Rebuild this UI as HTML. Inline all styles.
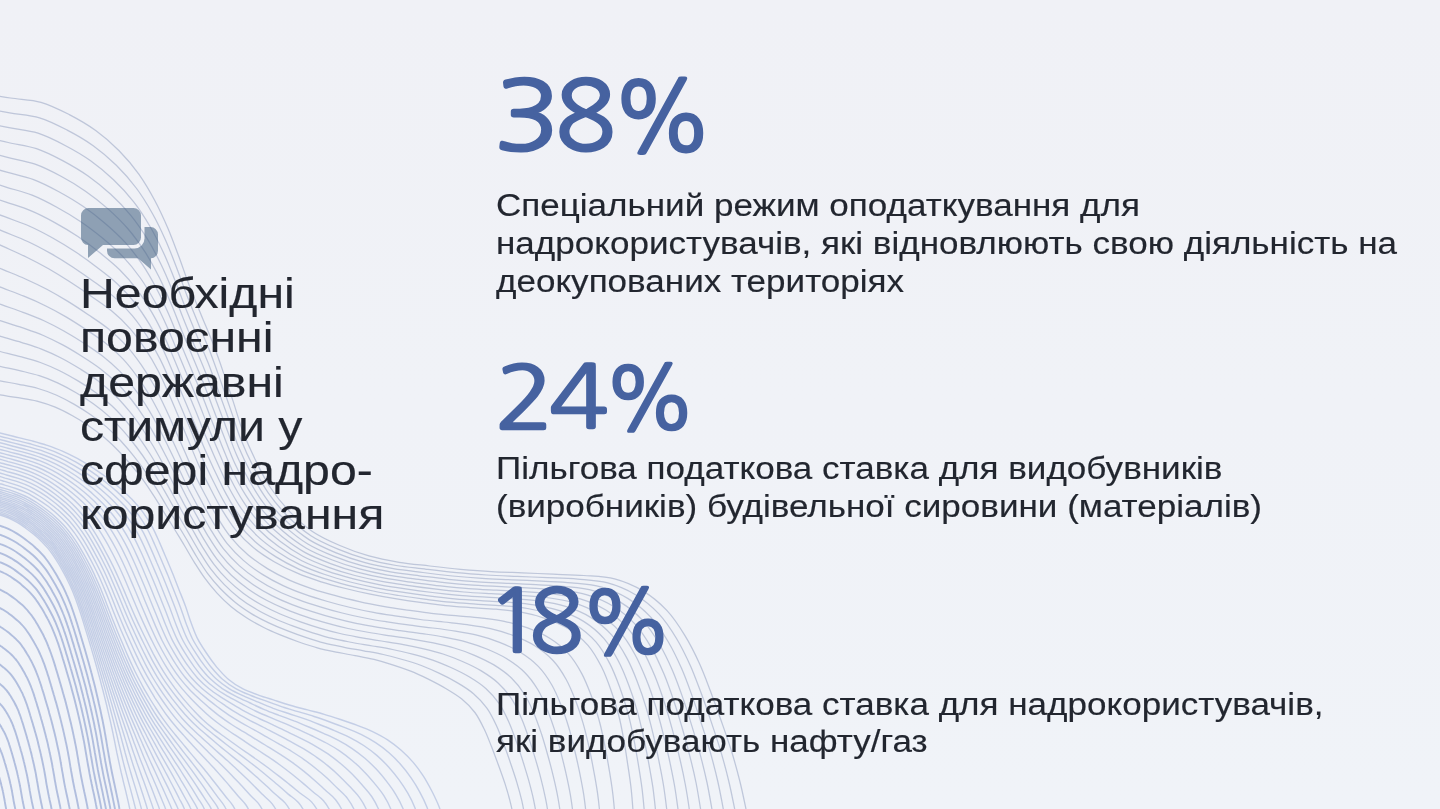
<!DOCTYPE html>
<html lang="uk">
<head>
<meta charset="utf-8">
<title>Повоєнні державні стимули у сфері надрокористування</title>
<style>
html,body{margin:0;padding:0;}
body{width:1440px;height:809px;overflow:hidden;position:relative;
  background:linear-gradient(180deg,#f0f1f6 0%,#f0f3f8 100%);
  font-family:"Liberation Sans","DejaVu Sans",sans-serif;}
#bg{position:absolute;left:0;top:0;width:1440px;height:809px;}
.ico{position:absolute;left:0;top:0;width:1440px;height:809px;}
.title{position:absolute;left:80.4px;top:0;margin:0;font-weight:400;color:#22262f;-webkit-text-stroke:0.15px #22262f;
  font-size:42px;line-height:42px;transform:scaleX(1.148);transform-origin:0 0;}
.title span,.txt span{position:absolute;left:0;white-space:nowrap;}
.num{position:absolute;left:0;top:0;margin:0;color:#4662a0;font-weight:400;}
.num span{position:absolute;line-height:1;transform-origin:0 0;white-space:nowrap;}
.num .ng{font-family:"NanumGothic","Liberation Sans",sans-serif;-webkit-text-stroke:0.03em #4662a0;}
.num .one{clip-path:polygon(0 0,100% 0,100% 72%,62% 72%,62% 100%,44.2% 100%,44.2% 72%,0 72%);}
.txt{position:absolute;left:495.5px;top:0;margin:0;color:#22262f;-webkit-text-stroke:0.15px #22262f;font-size:31px;line-height:31px;
  transform:scaleX(1.13);transform-origin:0 0;}
</style>
</head>
<body>
<svg id="bg" viewBox="0 0 1440 809"><g fill="none" stroke="#8d9bbd" stroke-width="1.25" stroke-opacity="0.5"><path d="M-20.0,93.0C-14.9,93.8 0.3,96.5 10.4,98.0C20.6,99.6 31.2,99.5 41.0,102.3C50.8,105.1 60.1,109.9 69.3,114.6C78.4,119.3 87.4,124.5 95.7,130.5C104.0,136.5 111.9,143.4 119.1,150.7C126.3,158.0 133.0,166.0 139.0,174.3C144.9,182.7 150.1,191.7 154.9,200.7C159.8,209.8 164.0,219.2 168.1,228.7C172.1,238.2 175.6,247.9 179.2,257.5C182.8,267.2 186.0,277.0 189.7,286.6C193.4,296.2 197.4,305.7 201.3,315.2C205.2,324.8 209.4,334.2 213.1,343.8C216.8,353.4 220.2,363.1 223.5,372.9C226.9,382.6 230.2,392.4 233.4,402.1C236.6,411.9 239.3,421.9 242.9,431.5C246.6,441.1 250.8,450.6 255.3,459.8C259.8,469.0 264.3,478.4 270.0,487.0C275.6,495.5 282.1,503.7 289.2,511.1C296.3,518.5 303.9,525.8 312.4,531.5C320.8,537.2 330.4,541.5 339.8,545.5C349.2,549.6 359.0,553.1 368.9,555.9C378.8,558.7 389.0,560.6 399.1,562.3C409.3,563.9 419.6,564.8 429.8,566.0C440.0,567.2 450.3,568.4 460.5,569.4C470.8,570.3 481.0,571.1 491.3,571.6C501.6,572.2 511.9,572.4 522.2,572.8C532.5,573.3 542.8,573.7 553.1,574.2C563.4,574.6 573.7,574.7 583.9,575.5C594.2,576.3 604.8,576.4 614.6,578.9C624.4,581.5 634.2,585.7 642.9,590.9C651.6,596.2 659.8,603.0 666.8,610.4C673.8,617.8 679.5,626.7 684.8,635.4C690.2,644.1 694.8,653.4 699.1,662.8C703.4,672.1 706.9,681.8 710.6,691.5C714.2,701.1 717.7,710.8 721.1,720.5C724.5,730.2 728.0,739.9 731.1,749.8C734.1,759.6 736.9,769.5 739.4,779.5C742.0,789.5 744.0,799.6 746.1,809.7C748.2,819.7 751.0,834.9 752.0,840.0"/><path d="M-20.0,107.3C-15.0,108.2 -0.2,111.1 9.7,112.9C19.6,114.6 29.9,114.9 39.5,117.8C49.1,120.6 58.2,125.4 67.2,130.1C76.1,134.7 85.0,139.8 93.2,145.7C101.4,151.6 109.1,158.2 116.3,165.2C123.5,172.3 130.2,179.9 136.2,188.0C142.3,196.0 147.5,204.7 152.4,213.5C157.4,222.3 161.7,231.5 165.8,240.7C169.9,249.9 173.4,259.4 177.1,268.9C180.7,278.3 184.0,287.9 187.6,297.3C191.3,306.7 195.2,316.1 199.0,325.4C202.9,334.8 207.0,344.0 210.7,353.4C214.3,362.9 217.6,372.4 221.0,382.0C224.4,391.5 227.7,401.0 231.0,410.6C234.3,420.1 237.0,429.9 240.8,439.3C244.5,448.6 248.7,457.9 253.3,466.8C257.9,475.8 262.6,484.8 268.4,493.1C274.1,501.3 280.7,509.1 287.7,516.2C294.8,523.3 302.5,530.2 310.9,535.7C319.2,541.2 328.7,545.2 338.0,549.1C347.2,553.0 356.9,556.4 366.6,559.1C376.3,561.9 386.3,563.8 396.2,565.5C406.2,567.1 416.3,568.0 426.3,569.3C436.4,570.5 446.4,571.7 456.5,572.7C466.6,573.7 476.6,574.4 486.7,575.0C496.8,575.6 506.9,575.9 517.1,576.3C527.2,576.8 537.3,577.2 547.4,577.7C557.5,578.1 567.6,578.3 577.7,579.1C587.7,580.0 598.1,580.3 607.7,582.9C617.4,585.5 627.0,589.6 635.5,594.7C644.0,599.9 652.1,606.6 658.9,613.9C665.7,621.2 671.3,629.9 676.5,638.5C681.7,647.1 686.1,656.3 690.3,665.5C694.4,674.7 697.8,684.3 701.4,693.8C704.9,703.2 708.2,712.8 711.4,722.4C714.6,732.0 717.9,741.5 720.7,751.2C723.6,760.9 726.3,770.7 728.6,780.5C731.0,790.3 732.9,800.2 734.9,810.2C736.8,820.1 739.4,835.0 740.3,840.0"/><path d="M-20.0,121.6C-15.2,122.6 -0.7,125.8 9.0,127.7C18.7,129.6 28.7,130.3 38.0,133.2C47.4,136.2 56.4,140.9 65.1,145.5C73.9,150.1 82.6,155.1 90.6,160.8C98.7,166.6 106.4,173.0 113.5,179.8C120.7,186.6 127.5,193.9 133.5,201.7C139.6,209.4 144.9,217.8 149.9,226.3C154.9,234.8 159.3,243.8 163.5,252.7C167.7,261.7 171.3,271.0 174.9,280.2C178.6,289.4 181.9,298.8 185.5,308.0C189.2,317.2 193.0,326.4 196.8,335.6C200.5,344.8 204.6,353.9 208.2,363.1C211.8,372.3 215.1,381.7 218.5,391.1C221.9,400.4 225.3,409.7 228.6,419.0C232.0,428.4 234.8,437.9 238.6,447.0C242.4,456.1 246.7,465.1 251.4,473.8C256.0,482.5 260.9,491.2 266.7,499.1C272.5,507.1 279.2,514.5 286.3,521.3C293.4,528.1 301.1,534.6 309.4,539.9C317.7,545.1 326.9,549.0 336.1,552.8C345.2,556.5 354.7,559.7 364.2,562.4C373.8,565.0 383.6,567.0 393.3,568.7C403.1,570.3 413.0,571.3 422.9,572.5C432.7,573.8 442.6,575.0 452.5,576.0C462.3,577.0 472.2,577.8 482.2,578.4C492.1,579.1 502.0,579.3 511.9,579.8C521.8,580.2 531.8,580.7 541.7,581.2C551.6,581.7 561.5,581.9 571.4,582.8C581.3,583.8 591.4,584.2 600.8,586.9C610.3,589.5 619.7,593.5 628.1,598.6C636.4,603.6 644.3,610.2 651.0,617.4C657.7,624.6 663.1,633.2 668.2,641.7C673.2,650.1 677.5,659.2 681.5,668.3C685.5,677.3 688.8,686.7 692.2,696.1C695.5,705.4 698.6,714.8 701.6,724.3C704.7,733.7 707.7,743.1 710.4,752.7C713.1,762.2 715.6,771.8 717.8,781.5C720.0,791.1 721.8,800.9 723.6,810.7C725.4,820.4 727.8,835.1 728.6,840.0"/><path d="M-20.0,135.9C-15.3,137.0 -1.2,140.4 8.2,142.5C17.7,144.7 27.4,145.6 36.5,148.7C45.7,151.8 54.5,156.4 63.1,160.9C71.6,165.5 80.1,170.4 88.1,176.0C96.0,181.6 103.6,187.8 110.7,194.3C117.9,200.9 124.7,207.9 130.8,215.3C136.9,222.8 142.4,230.9 147.5,239.1C152.5,247.3 157.0,256.0 161.2,264.8C165.5,273.5 169.1,282.5 172.8,291.5C176.5,300.5 179.8,309.7 183.4,318.7C187.0,327.8 190.8,336.8 194.5,345.8C198.2,354.8 202.2,363.7 205.7,372.8C209.3,381.8 212.5,391.0 216.0,400.2C219.4,409.3 222.8,418.4 226.2,427.5C229.6,436.6 232.6,445.9 236.5,454.7C240.4,463.6 244.6,472.4 249.4,480.8C254.2,489.3 259.2,497.6 265.1,505.2C271.0,512.8 277.7,519.9 284.8,526.4C291.9,532.9 299.6,539.0 307.8,544.0C316.1,549.0 325.2,552.8 334.2,556.4C343.2,560.0 352.5,563.1 361.9,565.7C371.3,568.2 380.9,570.2 390.5,571.9C400.1,573.5 409.8,574.6 419.4,575.8C429.1,577.0 438.8,578.3 448.4,579.3C458.1,580.3 467.8,581.2 477.6,581.8C487.3,582.5 497.0,582.8 506.8,583.3C516.5,583.7 526.2,584.1 536.0,584.7C545.7,585.2 555.5,585.4 565.1,586.5C574.8,587.5 584.7,588.2 593.9,590.8C603.2,593.5 612.5,597.4 620.7,602.4C628.9,607.4 636.6,613.8 643.1,620.9C649.7,628.0 654.9,636.4 659.8,644.8C664.7,653.2 668.8,662.1 672.7,671.0C676.5,680.0 679.8,689.2 683.0,698.4C686.2,707.6 689.1,716.8 691.9,726.1C694.8,735.4 697.6,744.7 700.1,754.1C702.6,763.5 704.9,773.0 707.0,782.5C709.0,792.0 710.6,801.6 712.3,811.2C714.0,820.8 716.1,835.2 716.9,840.0"/><path d="M-20.0,150.2C-15.4,151.4 -1.7,155.0 7.5,157.4C16.7,159.7 26.1,161.0 35.1,164.2C44.0,167.3 52.6,171.8 61.0,176.3C69.4,180.8 77.7,185.7 85.5,191.2C93.3,196.6 100.9,202.6 108.0,208.9C115.0,215.2 121.9,221.9 128.1,229.0C134.3,236.2 139.8,243.9 145.0,251.9C150.1,259.9 154.6,268.3 158.9,276.8C163.2,285.3 167.0,294.0 170.7,302.8C174.5,311.6 177.8,320.6 181.3,329.4C184.9,338.3 188.6,347.1 192.3,356.0C195.9,364.8 199.7,373.6 203.3,382.4C206.8,391.3 210.0,400.3 213.4,409.3C216.8,418.2 220.3,427.1 223.8,435.9C227.3,444.8 230.4,453.8 234.4,462.5C238.3,471.1 242.6,479.7 247.4,487.9C252.3,496.0 257.4,504.0 263.4,511.3C269.4,518.6 276.2,525.3 283.3,531.5C290.5,537.6 298.2,543.4 306.3,548.2C314.5,553.0 323.5,556.6 332.4,560.0C341.2,563.5 350.4,566.4 359.6,568.9C368.8,571.4 378.2,573.4 387.6,575.1C397.0,576.7 406.5,577.8 416.0,579.1C425.4,580.3 434.9,581.6 444.4,582.6C453.9,583.6 463.5,584.5 473.0,585.2C482.5,585.9 492.1,586.3 501.6,586.7C511.2,587.2 520.7,587.6 530.3,588.2C539.8,588.7 549.4,589.0 558.9,590.1C568.3,591.2 578.0,592.1 587.1,594.8C596.1,597.5 605.2,601.2 613.3,606.2C621.3,611.1 628.9,617.4 635.3,624.4C641.6,631.3 646.7,639.7 651.5,647.9C656.3,656.2 660.1,665.0 663.9,673.8C667.6,682.6 670.7,691.6 673.8,700.7C676.8,709.7 679.5,718.9 682.2,728.0C684.8,737.2 687.4,746.3 689.7,755.6C692.1,764.8 694.3,774.1 696.2,783.5C698.0,792.8 699.5,802.3 701.0,811.7C702.5,821.1 704.5,835.3 705.2,840.0"/><path d="M-20.0,164.5C-15.5,165.8 -2.1,169.7 6.8,172.2C15.7,174.7 24.9,176.4 33.6,179.6C42.3,182.9 50.7,187.3 58.9,191.7C67.1,196.2 75.3,201.0 83.0,206.3C90.7,211.6 98.1,217.4 105.2,223.5C112.2,229.5 119.2,235.8 125.4,242.7C131.6,249.6 137.3,257.0 142.5,264.7C147.7,272.4 152.3,280.6 156.6,288.8C161.0,297.0 164.9,305.6 168.6,314.1C172.4,322.7 175.7,331.5 179.3,340.1C182.8,348.8 186.4,357.5 190.0,366.1C193.6,374.8 197.3,383.4 200.8,392.1C204.3,400.8 207.5,409.6 210.9,418.4C214.3,427.1 217.9,435.7 221.4,444.4C225.0,453.0 228.2,461.8 232.2,470.2C236.2,478.6 240.5,487.0 245.5,494.9C250.4,502.7 255.7,510.4 261.8,517.4C267.9,524.3 274.7,530.7 281.9,536.6C289.1,542.4 296.7,547.9 304.8,552.4C312.9,556.9 321.7,560.3 330.5,563.6C339.2,566.9 348.2,569.8 357.2,572.2C366.3,574.6 375.5,576.6 384.7,578.2C393.9,579.9 403.2,581.1 412.5,582.4C421.8,583.6 431.1,584.9 440.4,585.9C449.7,586.9 459.1,587.9 468.4,588.6C477.7,589.3 487.1,589.7 496.5,590.2C505.8,590.7 515.2,591.1 524.6,591.7C533.9,592.3 543.3,592.6 552.6,593.8C561.9,595.0 571.3,596.1 580.2,598.8C589.1,601.5 598.0,605.1 605.8,610.0C613.7,614.8 621.2,621.0 627.4,627.9C633.6,634.7 638.5,643.0 643.2,651.1C647.8,659.2 651.5,667.9 655.1,676.5C658.6,685.2 661.7,694.1 664.6,703.0C667.4,711.9 670.0,720.9 672.4,729.9C674.9,738.9 677.3,747.9 679.4,757.0C681.6,766.1 683.6,775.3 685.3,784.5C687.1,793.7 688.4,802.9 689.7,812.2C691.1,821.4 692.9,835.4 693.5,840.0"/><path d="M-20.0,178.8C-15.7,180.2 -2.6,184.3 6.0,187.1C14.7,189.8 23.6,191.8 32.1,195.1C40.6,198.5 48.8,202.8 56.8,207.2C64.9,211.6 72.8,216.3 80.4,221.5C88.0,226.6 95.3,232.2 102.4,238.0C109.4,243.8 116.4,249.8 122.7,256.4C128.9,262.9 134.7,270.1 140.0,277.5C145.3,284.9 149.9,292.8 154.4,300.8C158.8,308.8 162.7,317.1 166.5,325.5C170.3,333.8 173.6,342.4 177.2,350.9C180.7,359.3 184.2,367.8 187.7,376.3C191.3,384.8 194.9,393.3 198.3,401.8C201.8,410.3 204.9,419.0 208.4,427.5C211.8,436.0 215.4,444.4 219.0,452.8C222.7,461.2 226.0,469.8 230.1,478.0C234.2,486.1 238.5,494.3 243.5,501.9C248.5,509.5 254.0,516.8 260.2,523.5C266.3,530.1 273.2,536.1 280.4,541.6C287.6,547.2 295.3,552.3 303.3,556.5C311.3,560.8 320.0,564.1 328.6,567.3C337.2,570.4 346.0,573.1 354.9,575.5C363.8,577.8 372.8,579.7 381.8,581.4C390.8,583.1 400.0,584.3 409.1,585.6C418.2,586.9 427.3,588.1 436.4,589.2C445.5,590.3 454.7,591.3 463.8,592.0C473.0,592.8 482.2,593.2 491.3,593.7C500.5,594.2 509.7,594.6 518.9,595.2C528.0,595.8 537.2,596.2 546.3,597.5C555.4,598.7 564.6,600.0 573.3,602.7C582.0,605.4 590.7,609.0 598.4,613.8C606.1,618.6 613.4,624.6 619.5,631.4C625.6,638.1 630.4,646.2 634.8,654.2C639.3,662.2 642.8,670.8 646.2,679.3C649.7,687.8 652.6,696.5 655.3,705.3C658.1,714.0 660.4,722.9 662.7,731.8C665.0,740.6 667.1,749.5 669.1,758.5C671.0,767.4 672.9,776.4 674.5,785.5C676.1,794.5 677.2,803.6 678.5,812.7C679.7,821.8 681.2,835.4 681.8,840.0"/><path d="M-20.0,193.1C-15.8,194.6 -3.1,199.0 5.3,201.9C13.7,204.8 22.4,207.1 30.6,210.6C38.9,214.0 46.9,218.2 54.8,222.6C62.7,226.9 70.4,231.6 77.9,236.6C85.3,241.6 92.6,247.0 99.6,252.6C106.6,258.2 113.6,263.8 119.9,270.0C126.3,276.3 132.2,283.1 137.5,290.3C142.9,297.4 147.6,305.1 152.1,312.9C156.6,320.6 160.6,328.7 164.4,336.8C168.3,344.9 171.6,353.3 175.1,361.6C178.6,369.9 182.0,378.2 185.5,386.5C189.0,394.8 192.5,403.1 195.9,411.4C199.3,419.8 202.4,428.3 205.8,436.6C209.3,444.9 213.0,453.1 216.6,461.3C220.3,469.4 223.8,477.8 227.9,485.7C232.1,493.6 236.4,501.6 241.5,508.9C246.6,516.2 252.3,523.2 258.5,529.5C264.7,535.8 271.7,541.5 279.0,546.7C286.2,551.9 293.8,556.7 301.8,560.7C309.8,564.7 318.3,567.9 326.7,570.9C335.2,573.9 343.9,576.4 352.6,578.7C361.3,581.0 370.1,582.9 378.9,584.6C387.8,586.3 396.7,587.6 405.6,588.9C414.5,590.2 423.4,591.4 432.4,592.5C441.3,593.6 450.3,594.6 459.2,595.4C468.2,596.2 477.2,596.6 486.2,597.2C495.2,597.7 504.2,598.0 513.2,598.7C522.1,599.4 531.2,599.8 540.0,601.2C548.9,602.5 557.9,604.0 566.4,606.7C574.9,609.4 583.5,612.9 591.0,617.6C598.6,622.3 605.7,628.3 611.6,634.9C617.5,641.5 622.2,649.5 626.5,657.4C630.8,665.2 634.2,673.6 637.4,682.0C640.7,690.4 643.6,699.0 646.1,707.6C648.7,716.2 650.9,724.9 653.0,733.6C655.1,742.4 657.0,751.1 658.7,759.9C660.5,768.8 662.3,777.6 663.7,786.5C665.1,795.3 666.1,804.3 667.2,813.2C668.3,822.1 669.6,835.5 670.1,840.0"/><path d="M-20.0,207.4C-15.9,209.0 -3.6,213.6 4.6,216.7C12.8,219.9 21.1,222.5 29.1,226.0C37.2,229.6 45.0,233.7 52.7,238.0C60.4,242.3 68.0,246.9 75.3,251.8C82.6,256.6 89.8,261.8 96.8,267.2C103.8,272.5 110.9,277.7 117.2,283.7C123.6,289.7 129.6,296.2 135.0,303.0C140.4,309.9 145.2,317.4 149.8,324.9C154.3,332.4 158.5,340.2 162.3,348.1C166.2,356.0 169.5,364.2 173.0,372.3C176.5,380.4 179.8,388.6 183.2,396.7C186.6,404.8 190.1,413.0 193.4,421.1C196.8,429.3 199.8,437.6 203.3,445.7C206.8,453.8 210.5,461.7 214.2,469.7C218.0,477.7 221.6,485.7 225.8,493.4C230.0,501.1 234.4,508.9 239.6,515.9C244.8,522.9 250.6,529.6 256.9,535.6C263.2,541.6 270.3,546.9 277.5,551.8C284.7,556.7 292.4,561.1 300.3,564.9C308.2,568.7 316.6,571.7 324.9,574.5C333.2,577.4 341.7,579.8 350.2,582.0C358.8,584.2 367.4,586.1 376.0,587.8C384.7,589.5 393.4,590.9 402.1,592.2C410.9,593.5 419.6,594.7 428.4,595.8C437.1,596.9 445.9,598.0 454.6,598.8C463.4,599.6 472.2,600.1 481.0,600.6C489.8,601.2 498.7,601.5 507.5,602.2C516.2,602.9 525.1,603.4 533.8,604.8C542.4,606.2 551.2,607.9 559.5,610.7C567.8,613.4 576.2,616.8 583.6,621.4C591.0,626.0 598.0,631.9 603.8,638.4C609.5,644.9 614.0,652.8 618.1,660.5C622.3,668.2 625.5,676.5 628.6,684.8C631.8,693.0 634.5,701.4 636.9,709.9C639.4,718.3 641.3,726.9 643.2,735.5C645.1,744.1 646.8,752.8 648.4,761.4C650.0,770.1 651.6,778.7 652.9,787.4C654.1,796.2 655.0,804.9 655.9,813.7C656.8,822.4 658.0,835.6 658.4,840.0"/><path d="M-20.0,221.7C-16.0,223.3 -4.1,228.3 3.8,231.6C11.8,234.9 19.9,237.9 27.7,241.5C35.5,245.1 43.1,249.2 50.6,253.4C58.2,257.7 65.5,262.2 72.7,266.9C80.0,271.7 87.0,276.6 94.0,281.7C101.0,286.8 108.1,291.7 114.5,297.4C120.9,303.1 127.0,309.2 132.5,315.8C138.0,322.4 142.9,329.6 147.5,336.9C152.1,344.2 156.3,351.7 160.2,359.4C164.1,367.1 167.4,375.1 170.9,383.0C174.3,390.9 177.6,398.9 181.0,406.9C184.3,414.8 187.7,422.8 191.0,430.8C194.2,438.8 197.3,446.9 200.8,454.8C204.2,462.7 208.0,470.4 211.8,478.2C215.7,485.9 219.4,493.7 223.7,501.2C227.9,508.6 232.3,516.2 237.6,522.9C242.9,529.7 248.8,536.0 255.2,541.7C261.6,547.4 268.8,552.3 276.0,556.9C283.3,561.5 291.0,565.5 298.8,569.1C306.6,572.6 314.8,575.4 323.0,578.1C331.2,580.8 339.6,583.1 347.9,585.3C356.3,587.4 364.7,589.3 373.2,591.0C381.6,592.7 390.2,594.1 398.7,595.5C407.2,596.8 415.8,598.0 424.3,599.1C432.9,600.2 441.5,601.4 450.1,602.2C458.7,603.0 467.3,603.5 475.9,604.1C484.5,604.7 493.2,605.0 501.8,605.7C510.4,606.4 519.0,607.0 527.5,608.5C536.0,610.0 544.5,611.8 552.6,614.6C560.7,617.4 569.0,620.7 576.2,625.2C583.4,629.7 590.3,635.5 595.9,641.9C601.5,648.3 605.8,656.0 609.8,663.6C613.8,671.2 616.8,679.4 619.8,687.5C622.8,695.6 625.5,703.9 627.7,712.2C630.0,720.5 631.8,729.0 633.5,737.4C635.2,745.8 636.6,754.4 638.1,762.9C639.5,771.4 640.9,779.9 642.0,788.4C643.1,797.0 643.8,805.6 644.6,814.2C645.4,822.8 646.4,835.7 646.7,840.0"/><path d="M-20.0,236.0C-16.1,237.7 -4.6,242.9 3.1,246.4C10.8,249.9 18.6,253.2 26.2,257.0C33.8,260.7 41.2,264.6 48.6,268.8C55.9,273.0 63.1,277.5 70.2,282.1C77.3,286.7 84.3,291.4 91.2,296.3C98.1,301.1 105.3,305.7 111.8,311.1C118.3,316.5 124.5,322.3 130.0,328.6C135.6,334.9 140.5,341.9 145.2,348.9C149.9,355.9 154.2,363.3 158.1,370.7C162.0,378.2 165.4,386.0 168.8,393.7C172.2,401.4 175.4,409.3 178.7,417.1C182.0,424.8 185.2,432.7 188.5,440.5C191.7,448.3 194.7,456.2 198.2,463.9C201.7,471.6 205.6,479.1 209.5,486.6C213.3,494.1 217.1,501.7 221.5,508.9C225.9,516.1 230.3,523.4 235.6,529.9C241.0,536.4 247.1,542.4 253.6,547.8C260.1,553.1 267.3,557.7 274.6,562.0C281.8,566.2 289.5,569.9 297.3,573.2C305.0,576.5 313.1,579.2 321.1,581.8C329.2,584.3 337.4,586.4 345.6,588.5C353.8,590.6 362.0,592.5 370.3,594.2C378.6,595.9 386.9,597.4 395.2,598.7C403.6,600.1 411.9,601.3 420.3,602.4C428.7,603.6 437.1,604.7 445.5,605.6C453.9,606.5 462.3,607.0 470.7,607.6C479.2,608.2 487.6,608.5 496.1,609.2C504.5,610.0 513.0,610.6 521.2,612.2C529.5,613.7 537.8,615.8 545.7,618.6C553.7,621.4 561.7,624.5 568.8,629.0C575.8,633.5 582.5,639.1 588.0,645.4C593.4,651.7 597.6,659.3 601.5,666.8C605.3,674.3 608.2,682.3 611.0,690.3C613.9,698.2 616.4,706.3 618.5,714.5C620.7,722.6 622.2,731.0 623.7,739.3C625.3,747.6 626.5,756.0 627.7,764.3C629.0,772.7 630.3,781.0 631.2,789.4C632.1,797.8 632.7,806.3 633.3,814.7C634.0,823.1 634.7,835.8 635.0,840.0"/><path d="M-20.0,259.9C-16.3,261.5 -5.0,266.2 2.5,269.4C9.9,272.5 17.5,275.4 24.9,278.7C32.3,282.0 39.6,285.5 46.8,289.3C53.9,293.1 61.0,297.2 67.9,301.4C74.8,305.7 81.6,310.2 88.3,314.7C95.1,319.3 102.0,323.7 108.3,328.8C114.5,333.9 120.6,339.5 126.1,345.4C131.5,351.4 136.4,358.0 141.1,364.6C145.7,371.3 150.0,378.2 154.0,385.3C157.9,392.4 161.4,399.8 164.8,407.1C168.3,414.4 171.6,421.9 174.9,429.3C178.2,436.7 181.5,444.2 184.7,451.6C188.0,459.0 191.1,466.6 194.5,473.9C198.0,481.3 201.8,488.5 205.6,495.7C209.4,502.9 213.1,510.2 217.3,517.1C221.5,524.1 225.8,531.1 230.9,537.4C236.0,543.7 241.8,549.5 247.9,554.8C254.1,560.0 260.9,564.6 267.8,568.9C274.7,573.1 282.0,576.8 289.4,580.1C296.8,583.4 304.5,586.2 312.2,588.8C319.9,591.4 327.7,593.6 335.6,595.7C343.4,597.9 351.3,599.8 359.3,601.6C367.2,603.4 375.2,604.9 383.2,606.3C391.2,607.7 399.3,608.9 407.3,610.1C415.4,611.2 423.4,612.4 431.5,613.3C439.6,614.2 447.7,614.9 455.8,615.6C463.9,616.4 472.0,616.9 480.1,617.8C488.1,618.8 496.2,619.6 504.2,621.3C512.1,623.0 520.0,625.1 527.6,627.9C535.2,630.8 542.9,633.9 549.7,638.2C556.5,642.4 563.1,647.7 568.4,653.6C573.8,659.6 578.1,666.7 581.9,673.9C585.7,681.0 588.6,688.7 591.5,696.3C594.3,703.9 596.8,711.7 598.9,719.5C601.1,727.3 602.8,735.3 604.4,743.3C606.0,751.2 607.4,759.2 608.8,767.3C610.1,775.3 611.5,783.3 612.5,791.4C613.6,799.4 614.2,807.5 614.9,815.6C615.6,823.7 616.3,835.9 616.6,840.0"/><path d="M-20.0,279.2C-16.3,280.6 -5.4,284.9 1.9,287.7C9.3,290.6 16.7,293.2 23.9,296.2C31.1,299.1 38.3,302.2 45.3,305.7C52.4,309.1 59.3,312.9 66.0,316.9C72.8,320.9 79.4,325.2 86.0,329.5C92.6,333.9 99.3,338.2 105.4,343.1C111.6,347.9 117.5,353.2 122.9,358.9C128.3,364.6 133.1,370.9 137.7,377.3C142.4,383.6 146.6,390.3 150.6,397.0C154.6,403.8 158.1,410.8 161.7,417.8C165.2,424.8 168.5,432.0 171.8,439.1C175.2,446.2 178.4,453.4 181.7,460.5C185.0,467.7 188.1,474.9 191.6,482.0C195.0,489.1 198.8,496.0 202.5,503.0C206.2,509.9 209.8,517.0 213.9,523.7C218.0,530.4 222.1,537.3 227.0,543.4C232.0,549.5 237.5,555.2 243.4,560.4C249.3,565.6 255.8,570.2 262.4,574.4C269.0,578.6 276.0,582.3 283.1,585.6C290.2,589.0 297.6,591.8 305.0,594.4C312.4,597.1 320.0,599.3 327.6,601.5C335.1,603.7 342.8,605.7 350.4,607.5C358.1,609.4 365.8,611.0 373.5,612.4C381.3,613.9 389.1,615.0 396.9,616.2C404.7,617.4 412.5,618.6 420.3,619.5C428.1,620.5 436.0,621.2 443.8,622.0C451.6,622.9 459.5,623.6 467.2,624.7C475.0,625.8 482.8,626.8 490.5,628.6C498.1,630.4 505.7,632.6 513.0,635.4C520.4,638.3 527.8,641.4 534.4,645.5C541.0,649.6 547.5,654.6 552.8,660.3C558.1,665.9 562.4,672.7 566.2,679.5C570.0,686.3 572.9,693.8 575.8,701.1C578.6,708.5 581.0,716.0 583.2,723.6C585.4,731.1 587.1,738.8 588.9,746.5C590.6,754.2 592.1,761.9 593.5,769.6C595.0,777.4 596.4,785.1 597.5,792.9C598.6,800.7 599.4,808.5 600.1,816.4C600.9,824.2 601.6,836.1 601.9,840.0"/><path d="M-20.0,296.9C-16.4,298.2 -5.7,302.2 1.5,304.7C8.6,307.3 15.9,309.6 23.0,312.3C30.0,315.0 37.1,317.7 44.0,320.8C50.9,324.0 57.7,327.5 64.3,331.3C71.0,335.0 77.4,339.1 83.9,343.2C90.3,347.4 96.8,351.5 102.8,356.2C108.8,360.9 114.6,366.0 119.9,371.4C125.2,376.9 130.0,382.9 134.6,388.9C139.3,395.0 143.5,401.4 147.5,407.8C151.6,414.3 155.2,421.0 158.7,427.7C162.3,434.4 165.6,441.3 169.0,448.2C172.4,455.0 175.6,461.9 178.9,468.8C182.2,475.7 185.4,482.6 188.8,489.5C192.3,496.3 195.9,503.0 199.6,509.7C203.3,516.5 206.8,523.3 210.8,529.8C214.8,536.3 218.8,542.9 223.5,548.9C228.3,554.9 233.6,560.5 239.2,565.6C244.9,570.7 251.1,575.3 257.4,579.5C263.7,583.7 270.5,587.4 277.3,590.7C284.1,594.1 291.3,596.9 298.4,599.6C305.6,602.3 312.9,604.6 320.2,606.8C327.5,609.1 334.8,611.1 342.2,613.0C349.6,614.9 357.1,616.6 364.6,618.0C372.1,619.5 379.7,620.7 387.2,621.9C394.8,623.1 402.4,624.2 410.0,625.2C417.5,626.3 425.2,627.0 432.7,628.0C440.3,628.9 447.9,629.8 455.4,631.1C462.9,632.3 470.4,633.5 477.8,635.4C485.2,637.2 492.5,639.6 499.6,642.4C506.7,645.2 513.8,648.3 520.3,652.3C526.7,656.3 533.0,661.0 538.3,666.4C543.5,671.8 547.9,678.2 551.7,684.8C555.5,691.3 558.4,698.5 561.2,705.6C564.1,712.7 566.5,720.0 568.7,727.3C570.9,734.6 572.7,742.0 574.5,749.5C576.3,756.9 577.9,764.3 579.5,771.8C581.0,779.3 582.5,786.8 583.7,794.3C584.8,801.9 585.7,809.5 586.5,817.1C587.2,824.7 587.9,836.2 588.2,840.0"/><path d="M-20.0,313.8C-16.5,315.0 -6.0,318.6 1.0,320.9C8.0,323.2 15.1,325.2 22.1,327.6C29.0,330.0 36.0,332.3 42.8,335.2C49.5,338.1 56.2,341.4 62.7,344.9C69.2,348.4 75.6,352.3 81.8,356.2C88.1,360.2 94.4,364.2 100.3,368.7C106.2,373.2 111.9,378.1 117.1,383.3C122.4,388.5 127.1,394.2 131.7,400.0C136.3,405.8 140.6,411.9 144.6,418.1C148.6,424.3 152.3,430.7 155.9,437.1C159.6,443.6 162.9,450.2 166.3,456.8C169.7,463.4 173.0,470.0 176.3,476.7C179.6,483.3 182.8,490.0 186.2,496.5C189.7,503.1 193.3,509.6 196.9,516.1C200.5,522.6 203.9,529.2 207.8,535.6C211.7,541.9 215.6,548.3 220.2,554.2C224.7,560.0 229.8,565.5 235.2,570.5C240.7,575.5 246.6,580.1 252.6,584.3C258.7,588.5 265.2,592.2 271.8,595.6C278.4,599.0 285.2,601.9 292.1,604.6C299.0,607.3 306.1,609.7 313.1,611.9C320.2,614.2 327.3,616.3 334.5,618.2C341.6,620.1 348.9,621.9 356.1,623.4C363.4,624.9 370.7,626.1 378.1,627.3C385.4,628.5 392.8,629.6 400.1,630.7C407.5,631.7 414.9,632.5 422.2,633.6C429.5,634.7 436.8,635.7 444.1,637.1C451.4,638.5 458.7,639.8 465.8,641.8C472.9,643.8 480.0,646.2 486.8,649.0C493.6,651.8 500.5,654.9 506.8,658.7C513.1,662.6 519.3,667.0 524.5,672.2C529.7,677.3 534.1,683.5 537.9,689.8C541.7,696.0 544.6,703.0 547.4,709.9C550.3,716.7 552.6,723.8 554.9,730.9C557.1,737.9 559.0,745.1 560.9,752.3C562.7,759.5 564.5,766.7 566.1,773.9C567.7,781.1 569.3,788.4 570.5,795.7C571.7,803.0 572.7,810.4 573.5,817.8C574.3,825.1 575.0,836.3 575.3,840.0"/><path d="M-20.0,330.0C-16.6,331.1 -6.3,334.4 0.6,336.4C7.4,338.5 14.4,340.2 21.2,342.3C28.0,344.5 34.9,346.5 41.5,349.1C48.2,351.7 54.7,354.7 61.1,358.0C67.5,361.3 73.7,365.0 79.9,368.8C86.0,372.6 92.2,376.4 97.9,380.7C103.7,385.1 109.3,389.7 114.4,394.7C119.6,399.7 124.3,405.1 128.9,410.7C133.5,416.2 137.7,422.1 141.8,428.0C145.8,433.9 149.6,440.0 153.3,446.2C156.9,452.4 160.3,458.7 163.7,465.1C167.2,471.4 170.4,477.8 173.7,484.2C177.1,490.6 180.3,497.0 183.7,503.4C187.2,509.7 190.7,516.0 194.2,522.3C197.8,528.6 201.2,535.0 205.0,541.2C208.7,547.3 212.5,553.5 216.9,559.2C221.3,564.9 226.2,570.3 231.4,575.3C236.6,580.2 242.2,584.8 248.1,589.0C253.9,593.1 260.1,596.9 266.5,600.3C272.8,603.7 279.4,606.6 286.1,609.3C292.7,612.1 299.5,614.5 306.3,616.8C313.2,619.1 320.1,621.3 327.0,623.2C333.9,625.2 340.9,627.0 348.0,628.5C355.0,630.1 362.1,631.3 369.2,632.5C376.4,633.8 383.5,634.8 390.6,635.9C397.8,637.0 405.0,637.9 412.1,639.1C419.2,640.2 426.2,641.4 433.3,642.9C440.3,644.4 447.3,645.9 454.2,648.0C461.1,650.0 467.9,652.5 474.5,655.3C481.1,658.2 487.8,661.2 493.9,664.9C500.0,668.7 506.1,672.8 511.2,677.8C516.3,682.7 520.8,688.5 524.6,694.5C528.5,700.6 531.3,707.3 534.2,713.9C537.0,720.6 539.3,727.5 541.6,734.3C543.8,741.1 545.8,748.1 547.7,755.0C549.7,761.9 551.5,768.9 553.2,775.9C554.9,782.9 556.5,789.9 557.8,797.0C559.1,804.1 560.2,811.2 561.0,818.4C561.8,825.6 562.5,836.4 562.8,840.0"/><path d="M-20.0,345.8C-16.6,346.8 -6.6,349.7 0.1,351.5C6.9,353.3 13.7,354.8 20.4,356.7C27.1,358.5 33.8,360.2 40.4,362.5C46.9,364.9 53.3,367.6 59.6,370.7C65.9,373.8 72.0,377.3 78.0,380.9C84.0,384.5 89.9,388.3 95.6,392.4C101.2,396.6 106.7,401.0 111.8,405.8C116.9,410.5 121.6,415.7 126.2,421.1C130.7,426.4 135.0,431.9 139.1,437.6C143.1,443.3 147.0,449.1 150.7,455.0C154.4,460.9 157.8,467.0 161.2,473.1C164.7,479.2 167.9,485.4 171.3,491.6C174.6,497.7 177.9,503.9 181.3,510.0C184.7,516.1 188.2,522.2 191.7,528.3C195.2,534.4 198.5,540.6 202.2,546.6C205.9,552.5 209.5,558.6 213.8,564.1C218.0,569.7 222.7,575.0 227.7,579.9C232.7,584.8 238.0,589.3 243.6,593.5C249.2,597.7 255.2,601.4 261.3,604.8C267.4,608.2 273.8,611.2 280.2,614.0C286.6,616.8 293.2,619.2 299.8,621.6C306.4,623.9 313.0,626.1 319.7,628.1C326.4,630.1 333.2,631.9 340.0,633.5C346.9,635.1 353.8,636.3 360.7,637.6C367.6,638.8 374.5,639.9 381.5,641.0C388.4,642.1 395.3,643.1 402.2,644.3C409.1,645.6 415.9,647.0 422.7,648.6C429.5,650.2 436.3,651.8 443.0,654.0C449.6,656.1 456.1,658.7 462.5,661.5C468.9,664.3 475.4,667.3 481.3,670.9C487.3,674.6 493.3,678.5 498.3,683.2C503.4,687.9 508.0,693.4 511.8,699.2C515.6,705.0 518.5,711.5 521.3,717.9C524.1,724.3 526.4,731.0 528.6,737.6C530.9,744.2 533.0,750.9 535.0,757.6C537.0,764.3 539.0,771.1 540.7,777.8C542.5,784.6 544.1,791.4 545.5,798.3C546.9,805.1 548.0,812.1 548.9,819.0C549.7,826.0 550.4,836.5 550.7,840.0"/><path d="M-20.0,361.2C-16.7,362.0 -6.9,364.7 -0.3,366.2C6.3,367.8 13.0,369.0 19.6,370.6C26.1,372.2 32.8,373.6 39.2,375.7C45.6,377.7 52.0,380.3 58.1,383.1C64.3,386.0 70.2,389.3 76.1,392.8C82.0,396.2 87.8,399.8 93.3,403.8C98.8,407.8 104.2,412.0 109.3,416.6C114.3,421.1 119.0,426.1 123.5,431.2C128.0,436.2 132.3,441.6 136.4,447.0C140.5,452.4 144.4,457.9 148.1,463.6C151.8,469.3 155.3,475.1 158.8,481.0C162.2,486.8 165.5,492.8 168.9,498.7C172.2,504.6 175.6,510.6 178.9,516.5C182.3,522.4 185.8,528.2 189.2,534.1C192.6,540.0 195.9,546.0 199.5,551.8C203.1,557.6 206.6,563.5 210.7,568.9C214.8,574.3 219.3,579.5 224.1,584.4C228.8,589.2 233.9,593.8 239.3,597.9C244.7,602.1 250.4,605.8 256.3,609.2C262.1,612.7 268.3,615.7 274.4,618.5C280.6,621.3 287.0,623.8 293.3,626.2C299.7,628.6 306.2,630.8 312.7,632.8C319.2,634.8 325.7,636.8 332.3,638.4C338.9,640.0 345.6,641.2 352.3,642.5C359.0,643.8 365.8,644.8 372.5,646.0C379.2,647.1 386.0,648.1 392.6,649.5C399.3,650.8 405.9,652.4 412.5,654.1C419.0,655.8 425.6,657.6 432.0,659.8C438.4,662.0 444.7,664.7 450.9,667.5C457.1,670.3 463.3,673.3 469.1,676.8C474.9,680.3 480.8,684.0 485.8,688.5C490.8,693.0 495.4,698.2 499.2,703.7C503.0,709.3 505.9,715.6 508.7,721.8C511.5,728.0 513.8,734.5 516.1,740.9C518.4,747.3 520.5,753.7 522.6,760.2C524.6,766.7 526.7,773.2 528.5,779.7C530.3,786.3 532.1,792.9 533.5,799.5C534.9,806.2 536.2,812.9 537.1,819.6C537.9,826.4 538.6,836.6 538.9,840.0"/><path d="M-20.0,376.2C-16.8,377.0 -7.1,379.3 -0.7,380.7C5.8,382.0 12.3,383.0 18.8,384.3C25.2,385.6 31.8,386.7 38.1,388.5C44.4,390.3 50.6,392.6 56.7,395.2C62.7,397.9 68.6,401.1 74.3,404.4C80.0,407.7 85.7,411.2 91.1,415.0C96.5,418.8 101.8,422.8 106.8,427.1C111.7,431.5 116.4,436.2 120.9,441.0C125.4,445.9 129.7,451.0 133.8,456.1C137.9,461.3 141.9,466.6 145.6,472.0C149.4,477.4 152.9,483.0 156.4,488.6C159.9,494.3 163.1,500.0 166.5,505.7C169.9,511.4 173.2,517.1 176.6,522.8C180.0,528.5 183.4,534.1 186.8,539.8C190.1,545.5 193.3,551.4 196.8,557.0C200.3,562.6 203.8,568.3 207.7,573.6C211.7,578.9 216.0,584.0 220.5,588.8C225.1,593.5 229.9,598.1 235.1,602.2C240.2,606.4 245.7,610.1 251.3,613.6C257.0,617.0 262.9,620.0 268.8,622.9C274.8,625.8 280.9,628.3 287.1,630.7C293.2,633.1 299.5,635.4 305.7,637.4C312.0,639.5 318.3,641.5 324.7,643.2C331.1,644.8 337.7,646.0 344.2,647.3C350.7,648.6 357.2,649.6 363.7,650.8C370.2,652.0 376.8,653.1 383.2,654.5C389.7,655.9 396.1,657.6 402.4,659.5C408.8,661.3 415.1,663.2 421.3,665.5C427.5,667.9 433.5,670.5 439.5,673.4C445.5,676.2 451.4,679.2 457.1,682.6C462.8,685.9 468.5,689.4 473.5,693.7C478.5,697.9 483.1,702.9 486.9,708.2C490.7,713.5 493.6,719.6 496.4,725.6C499.2,731.6 501.4,737.8 503.7,744.0C506.1,750.2 508.3,756.5 510.4,762.7C512.5,769.0 514.7,775.2 516.6,781.6C518.5,787.9 520.3,794.3 521.8,800.7C523.2,807.2 524.5,813.7 525.5,820.2C526.4,826.8 527.0,836.7 527.3,840.0"/><path d="M-20.0,391.0C-16.8,391.6 -7.4,393.7 -1.1,394.8C5.2,395.9 11.6,396.6 18.0,397.7C24.3,398.7 30.8,399.5 37.0,401.1C43.2,402.7 49.3,404.7 55.2,407.2C61.2,409.6 66.9,412.6 72.5,415.8C78.1,418.9 83.6,422.3 88.9,425.9C94.2,429.5 99.4,433.4 104.3,437.5C109.2,441.7 113.9,446.1 118.3,450.7C122.8,455.3 127.1,460.2 131.2,465.1C135.3,470.0 139.4,475.0 143.2,480.2C147.0,485.4 150.5,490.8 154.0,496.2C157.5,501.6 160.8,507.1 164.2,512.6C167.6,518.0 171.0,523.5 174.4,529.0C177.7,534.5 181.1,539.9 184.4,545.5C187.7,551.0 190.8,556.6 194.2,562.1C197.6,567.5 201.0,573.0 204.8,578.2C208.6,583.4 212.7,588.4 217.0,593.1C221.4,597.8 226.0,602.3 230.9,606.5C235.8,610.6 241.1,614.3 246.5,617.8C251.9,621.3 257.6,624.3 263.3,627.2C269.0,630.1 275.0,632.7 280.9,635.2C286.8,637.6 292.9,639.9 298.9,642.0C305.0,644.1 311.1,646.2 317.3,647.8C323.5,649.5 329.8,650.8 336.1,652.1C342.4,653.3 348.8,654.3 355.1,655.6C361.4,656.8 367.8,657.9 374.0,659.4C380.3,661.0 386.4,662.8 392.6,664.8C398.7,666.7 404.8,668.8 410.7,671.2C416.7,673.6 422.5,676.3 428.3,679.1C434.1,682.0 439.8,684.9 445.3,688.2C450.9,691.5 456.5,694.7 461.5,698.8C466.4,702.8 471.0,707.4 474.9,712.5C478.7,717.6 481.5,723.5 484.3,729.3C487.1,735.1 489.3,741.2 491.7,747.1C494.0,753.1 496.3,759.2 498.5,765.2C500.7,771.2 502.9,777.3 504.9,783.4C506.9,789.5 508.7,795.7 510.2,801.9C511.8,808.2 513.2,814.5 514.1,820.8C515.1,827.1 515.7,836.8 516.0,840.0"/></g><g fill="none" stroke="#8fa2d0" stroke-width="1.4" stroke-opacity="0.45"><path d="M-20.0,428.0C-17.2,428.7 -8.9,430.7 -3.4,432.1C2.2,433.5 7.7,434.9 13.2,436.3C18.8,437.7 24.4,438.9 29.9,440.4C35.4,441.9 40.9,443.3 46.4,445.1C51.8,446.9 57.2,448.8 62.4,451.1C67.6,453.4 72.7,456.0 77.7,458.7C82.7,461.5 87.6,464.5 92.4,467.6C97.2,470.7 101.9,473.9 106.5,477.3C111.0,480.8 115.6,484.3 119.9,488.0C124.2,491.7 128.4,495.6 132.4,499.7C136.3,503.9 140.0,508.2 143.4,512.8C146.7,517.4 149.7,522.3 152.5,527.3C155.2,532.4 157.4,537.7 159.7,542.9C162.0,548.1 164.2,553.4 166.4,558.6C168.6,563.9 170.9,569.1 173.1,574.4C175.2,579.7 177.2,585.1 179.3,590.4C181.4,595.7 183.6,601.0 185.5,606.3C187.5,611.7 189.0,617.2 191.0,622.6C193.0,627.9 194.9,633.4 197.4,638.4C200.0,643.5 203.2,648.3 206.4,653.0C209.6,657.8 212.9,662.5 216.5,666.9C220.2,671.2 224.0,675.6 228.3,679.2C232.7,682.9 237.5,686.0 242.6,688.7C247.6,691.3 253.1,693.2 258.4,695.1C263.8,697.1 269.3,698.6 274.7,700.3C280.2,702.1 285.6,703.9 291.1,705.5C296.5,707.1 302.1,708.4 307.6,709.9C313.2,711.4 318.7,712.7 324.2,714.3C329.7,715.9 335.1,717.7 340.5,719.5C345.9,721.3 351.3,723.1 356.7,725.2C362.0,727.2 367.4,729.2 372.6,731.6C377.7,734.1 382.8,736.7 387.6,739.8C392.3,742.9 396.9,746.4 401.2,750.2C405.5,754.0 409.5,758.1 413.2,762.4C416.9,766.7 420.3,771.4 423.4,776.1C426.5,780.9 429.2,786.0 431.8,791.0C434.4,796.1 437.0,801.3 439.0,806.6C441.0,811.9 442.6,817.5 443.7,823.0C444.9,828.6 445.6,837.2 446.0,840.0"/><path d="M-20.0,431.4C-17.3,432.1 -9.1,434.0 -3.7,435.3C1.8,436.6 7.2,438.1 12.6,439.5C18.0,440.8 23.5,442.1 28.9,443.5C34.3,445.0 39.7,446.4 45.0,448.2C50.3,450.0 55.6,452.0 60.6,454.3C65.7,456.5 70.7,459.2 75.6,461.9C80.4,464.7 85.2,467.6 89.9,470.7C94.5,473.8 99.1,477.1 103.5,480.5C107.9,483.9 112.3,487.4 116.5,491.1C120.6,494.8 124.7,498.7 128.5,502.8C132.2,506.9 135.9,511.2 139.1,515.8C142.3,520.3 145.2,525.1 147.9,530.0C150.6,534.9 152.7,540.1 155.0,545.2C157.3,550.3 159.5,555.5 161.7,560.7C163.8,565.8 166.1,570.9 168.2,576.1C170.3,581.3 172.3,586.5 174.4,591.7C176.4,596.9 178.5,602.1 180.5,607.4C182.4,612.6 184.0,618.0 186.0,623.2C188.0,628.4 189.9,633.8 192.4,638.7C194.9,643.7 198.0,648.4 201.1,653.1C204.2,657.7 207.3,662.4 210.8,666.7C214.4,671.0 218.0,675.4 222.2,679.0C226.4,682.7 231.0,685.9 235.8,688.6C240.6,691.4 245.8,693.4 250.9,695.5C256.1,697.6 261.3,699.3 266.5,701.2C271.7,703.1 276.9,705.1 282.2,706.9C287.5,708.6 292.8,710.1 298.1,711.7C303.5,713.3 308.8,714.8 314.1,716.5C319.4,718.2 324.7,720.1 329.9,722.0C335.2,723.9 340.4,725.8 345.6,727.9C350.8,729.9 356.0,732.0 361.0,734.4C366.0,736.9 371.0,739.6 375.6,742.7C380.3,745.7 384.8,749.2 389.0,752.8C393.2,756.5 397.2,760.5 400.9,764.7C404.6,768.8 408.0,773.3 411.1,777.9C414.3,782.5 417.2,787.2 419.8,792.1C422.5,797.0 425.0,802.1 427.0,807.3C429.0,812.5 430.4,817.9 431.6,823.4C432.7,828.8 433.5,837.2 433.9,840.0"/><path d="M-20.0,434.8C-17.3,435.4 -9.3,437.2 -4.0,438.5C1.3,439.8 6.6,441.3 11.9,442.6C17.3,444.0 22.6,445.2 27.9,446.6C33.2,448.1 38.5,449.5 43.6,451.3C48.8,453.1 53.9,455.1 58.9,457.4C63.8,459.7 68.7,462.4 73.4,465.1C78.2,467.8 82.8,470.8 87.3,473.9C91.8,477.0 96.2,480.2 100.5,483.6C104.8,487.0 109.0,490.5 113.0,494.2C117.0,497.9 120.9,501.8 124.6,505.8C128.2,509.9 131.7,514.2 134.8,518.7C137.9,523.2 140.8,527.9 143.4,532.7C146.0,537.5 148.1,542.6 150.4,547.6C152.6,552.6 154.8,557.6 156.9,562.7C159.1,567.7 161.2,572.7 163.3,577.8C165.4,582.9 167.4,588.0 169.4,593.1C171.4,598.2 173.5,603.3 175.4,608.4C177.4,613.5 179.0,618.8 181.0,623.9C183.0,629.0 184.9,634.1 187.3,639.0C189.8,643.9 192.8,648.5 195.8,653.1C198.7,657.7 201.8,662.3 205.2,666.6C208.6,670.9 212.1,675.2 216.1,678.8C220.1,682.5 224.5,685.8 229.1,688.6C233.6,691.5 238.6,693.7 243.5,695.9C248.3,698.2 253.4,700.1 258.3,702.1C263.3,704.2 268.3,706.3 273.3,708.3C278.4,710.2 283.5,711.8 288.6,713.5C293.8,715.3 299.0,716.8 304.1,718.7C309.2,720.5 314.3,722.5 319.4,724.5C324.4,726.5 329.5,728.4 334.5,730.6C339.6,732.7 344.6,734.8 349.5,737.3C354.4,739.8 359.2,742.5 363.7,745.5C368.3,748.5 372.7,751.9 376.8,755.4C380.9,759.0 384.9,762.9 388.6,766.9C392.2,770.9 395.7,775.2 398.9,779.6C402.1,784.0 405.1,788.5 407.8,793.2C410.5,797.9 413.0,802.9 415.0,807.9C416.9,813.0 418.3,818.4 419.4,823.7C420.6,829.1 421.4,837.3 421.8,840.0"/><path d="M-20.0,438.2C-17.4,438.8 -9.5,440.5 -4.3,441.7C0.9,443.0 6.1,444.4 11.3,445.8C16.5,447.1 21.7,448.3 26.9,449.8C32.1,451.2 37.3,452.7 42.3,454.5C47.3,456.3 52.3,458.3 57.1,460.6C62.0,462.9 66.7,465.5 71.3,468.3C75.9,471.0 80.4,474.0 84.8,477.0C89.1,480.1 93.4,483.3 97.6,486.7C101.7,490.1 105.8,493.6 109.6,497.3C113.5,501.0 117.2,504.9 120.7,508.9C124.2,513.0 127.5,517.2 130.5,521.6C133.5,526.0 136.3,530.7 138.8,535.4C141.3,540.1 143.5,545.0 145.7,549.9C148.0,554.8 150.0,559.8 152.2,564.7C154.3,569.6 156.4,574.6 158.5,579.5C160.5,584.5 162.4,589.5 164.4,594.5C166.4,599.5 168.5,604.4 170.4,609.4C172.3,614.4 174.0,619.5 176.0,624.5C178.0,629.5 179.9,634.5 182.3,639.3C184.7,644.1 187.6,648.7 190.5,653.2C193.3,657.7 196.3,662.2 199.5,666.5C202.8,670.7 206.2,674.9 210.0,678.6C213.8,682.3 218.0,685.6 222.3,688.6C226.6,691.5 231.3,693.9 236.0,696.3C240.6,698.7 245.4,700.8 250.1,703.0C254.9,705.3 259.6,707.6 264.4,709.6C269.3,711.7 274.2,713.5 279.1,715.4C284.1,717.2 289.1,718.9 294.0,720.9C299.0,722.8 303.9,724.9 308.8,727.0C313.7,729.0 318.6,731.1 323.5,733.3C328.3,735.5 333.2,737.6 338.0,740.1C342.7,742.6 347.4,745.3 351.8,748.3C356.2,751.3 360.5,754.6 364.6,758.0C368.7,761.5 372.6,765.3 376.2,769.1C379.9,773.0 383.3,777.2 386.6,781.4C389.8,785.5 393.0,789.8 395.7,794.3C398.5,798.8 401.0,803.6 403.0,808.6C404.9,813.6 406.2,818.9 407.3,824.1C408.4,829.3 409.3,837.3 409.7,840.0"/><path d="M-20.0,441.6C-17.4,442.2 -9.7,443.7 -4.6,445.0C0.5,446.2 5.6,447.6 10.6,448.9C15.7,450.3 20.9,451.4 25.9,452.9C30.9,454.3 36.0,455.8 40.9,457.6C45.8,459.4 50.7,461.5 55.4,463.8C60.1,466.1 64.6,468.7 69.1,471.5C73.6,474.2 78.0,477.1 82.2,480.2C86.5,483.2 90.6,486.5 94.6,489.8C98.6,493.2 102.5,496.7 106.2,500.4C109.9,504.1 113.5,507.9 116.8,512.0C120.1,516.0 123.3,520.2 126.2,524.5C129.1,528.9 131.8,533.5 134.3,538.1C136.7,542.7 138.9,547.5 141.1,552.3C143.3,557.0 145.3,561.9 147.4,566.7C149.5,571.5 151.6,576.4 153.6,581.2C155.6,586.1 157.5,591.0 159.5,595.8C161.4,600.7 163.5,605.6 165.4,610.5C167.3,615.3 169.0,620.3 171.0,625.2C173.0,630.0 174.9,634.9 177.3,639.6C179.6,644.3 182.4,648.8 185.1,653.2C187.9,657.7 190.7,662.1 193.9,666.3C197.0,670.5 200.2,674.7 203.8,678.4C207.5,682.1 211.5,685.5 215.6,688.5C219.7,691.6 224.1,694.1 228.5,696.7C232.9,699.3 237.4,701.6 241.9,703.9C246.4,706.3 250.9,708.8 255.5,711.0C260.2,713.2 264.9,715.2 269.6,717.2C274.4,719.2 279.2,721.0 284.0,723.1C288.8,725.1 293.5,727.3 298.2,729.4C302.9,731.6 307.7,733.7 312.4,736.0C317.1,738.2 321.9,740.4 326.4,743.0C331.0,745.5 335.6,748.2 339.9,751.1C344.2,754.1 348.4,757.3 352.4,760.7C356.4,764.0 360.3,767.6 363.9,771.4C367.6,775.1 371.0,779.1 374.3,783.1C377.6,787.1 380.9,791.0 383.7,795.4C386.5,799.8 389.0,804.4 390.9,809.3C392.8,814.1 394.0,819.3 395.1,824.4C396.2,829.6 397.2,837.4 397.6,840.0"/><path d="M-20.0,445.0C-17.5,445.5 -9.9,447.0 -4.9,448.2C0.1,449.4 5.0,450.8 10.0,452.1C15.0,453.4 20.0,454.6 24.9,456.0C29.8,457.5 34.8,458.9 39.6,460.7C44.4,462.6 49.1,464.7 53.6,467.0C58.2,469.3 62.6,471.9 67.0,474.6C71.3,477.4 75.5,480.3 79.7,483.3C83.8,486.4 87.8,489.6 91.7,492.9C95.5,496.3 99.2,499.8 102.8,503.5C106.3,507.2 109.7,511.0 112.9,515.0C116.1,519.0 119.1,523.2 121.9,527.5C124.7,531.8 127.3,536.2 129.7,540.8C132.1,545.3 134.3,550.0 136.4,554.6C138.6,559.3 140.6,564.0 142.7,568.7C144.7,573.5 146.7,578.2 148.7,582.9C150.7,587.7 152.6,592.4 154.5,597.2C156.5,602.0 158.4,606.7 160.4,611.5C162.3,616.2 164.0,621.1 166.0,625.8C168.0,630.5 169.9,635.3 172.2,639.9C174.5,644.5 177.2,648.9 179.8,653.3C182.5,657.7 185.2,662.0 188.2,666.2C191.2,670.4 194.3,674.5 197.7,678.2C201.2,681.9 204.9,685.4 208.8,688.5C212.7,691.7 216.9,694.4 221.0,697.1C225.2,699.8 229.4,702.3 233.7,704.9C238.0,707.4 242.3,710.0 246.7,712.3C251.1,714.7 255.6,716.9 260.1,719.0C264.7,721.2 269.4,723.1 273.9,725.3C278.5,727.4 283.1,729.7 287.6,731.9C292.2,734.2 296.8,736.4 301.3,738.7C305.9,741.0 310.5,743.3 314.9,745.8C319.3,748.3 323.7,751.0 328.0,753.9C332.2,756.9 336.3,760.0 340.2,763.3C344.2,766.6 348.0,770.0 351.6,773.6C355.2,777.2 358.7,781.0 362.0,784.8C365.4,788.6 368.9,792.3 371.7,796.5C374.5,800.7 377.0,805.2 378.9,810.0C380.8,814.7 381.9,819.8 383.0,824.8C384.1,829.8 385.1,837.5 385.5,840.0"/><path d="M-20.0,448.4C-17.5,448.9 -10.1,450.3 -5.2,451.4C-0.3,452.5 4.5,454.0 9.3,455.2C14.2,456.5 19.1,457.7 23.9,459.1C28.7,460.6 33.6,462.0 38.2,463.9C42.9,465.7 47.4,467.8 51.9,470.2C56.3,472.5 60.6,475.1 64.8,477.8C69.0,480.5 73.1,483.4 77.1,486.5C81.1,489.5 85.0,492.7 88.7,496.1C92.4,499.4 96.0,502.9 99.4,506.6C102.7,510.3 106.0,514.1 109.0,518.1C112.1,522.0 114.9,526.2 117.6,530.4C120.3,534.6 122.8,539.0 125.1,543.4C127.5,547.9 129.7,552.4 131.8,557.0C133.9,561.5 135.9,566.1 137.9,570.8C139.9,575.4 141.9,580.0 143.8,584.6C145.8,589.3 147.6,593.9 149.6,598.6C151.5,603.2 153.4,607.9 155.3,612.5C157.2,617.2 159.0,621.8 161.0,626.5C163.0,631.1 164.9,635.7 167.2,640.2C169.4,644.7 171.9,649.0 174.5,653.3C177.1,657.7 179.7,662.0 182.5,666.1C185.4,670.2 188.3,674.3 191.6,678.0C194.9,681.7 198.4,685.2 202.1,688.5C205.7,691.7 209.6,694.6 213.5,697.5C217.4,700.4 221.5,703.1 225.5,705.8C229.5,708.5 233.6,711.2 237.8,713.7C242.0,716.2 246.3,718.5 250.6,720.8C255.0,723.1 259.5,725.2 263.9,727.5C268.3,729.7 272.7,732.1 277.1,734.4C281.5,736.7 285.9,739.0 290.3,741.4C294.6,743.8 299.1,746.1 303.4,748.6C307.7,751.2 311.9,753.9 316.0,756.8C320.2,759.6 324.2,762.7 328.0,765.9C331.9,769.1 335.7,772.4 339.3,775.9C342.9,779.3 346.4,783.0 349.8,786.6C353.1,790.2 356.8,793.5 359.6,797.6C362.5,801.6 365.0,806.0 366.9,810.6C368.8,815.2 369.7,820.3 370.8,825.2C371.9,830.1 373.0,837.5 373.4,840.0"/><path d="M-20.0,451.8C-17.6,452.3 -10.3,453.5 -5.5,454.6C-0.8,455.7 4.0,457.1 8.7,458.4C13.4,459.7 18.2,460.8 22.9,462.3C27.6,463.7 32.3,465.1 36.9,467.0C41.4,468.8 45.8,471.0 50.1,473.3C54.4,475.7 58.6,478.3 62.7,481.0C66.7,483.7 70.7,486.6 74.6,489.6C78.4,492.7 82.2,495.8 85.7,499.2C89.3,502.5 92.7,506.1 95.9,509.7C99.2,513.4 102.2,517.2 105.1,521.1C108.0,525.1 110.7,529.2 113.3,533.3C115.9,537.5 118.3,541.8 120.6,546.1C122.9,550.5 125.0,554.9 127.1,559.3C129.2,563.8 131.2,568.3 133.2,572.8C135.1,577.3 137.1,581.8 139.0,586.3C140.9,590.8 142.7,595.4 144.6,599.9C146.5,604.5 148.4,609.0 150.3,613.5C152.2,618.1 154.0,622.6 156.0,627.1C158.0,631.6 159.9,636.1 162.1,640.5C164.3,644.9 166.7,649.2 169.2,653.4C171.6,657.6 174.2,661.9 176.9,665.9C179.6,670.0 182.4,674.1 185.5,677.8C188.6,681.6 191.9,685.1 195.3,688.5C198.8,691.8 202.4,694.9 206.1,697.9C209.7,700.9 213.5,703.8 217.3,706.7C221.1,709.5 224.9,712.4 228.9,715.1C232.9,717.7 237.0,720.2 241.1,722.6C245.3,725.1 249.6,727.3 253.8,729.7C258.1,732.0 262.3,734.5 266.5,736.9C270.7,739.3 275.0,741.7 279.2,744.1C283.4,746.5 287.7,748.9 291.8,751.5C296.0,754.1 300.1,756.7 304.1,759.6C308.1,762.4 312.0,765.4 315.8,768.5C319.7,771.6 323.4,774.8 327.0,778.1C330.6,781.4 334.0,784.9 337.5,788.3C340.9,791.7 344.7,794.8 347.6,798.6C350.5,802.5 353.0,806.8 354.9,811.3C356.7,815.8 357.6,820.7 358.6,825.5C359.7,830.3 360.9,837.6 361.3,840.0"/><path d="M-20.0,455.2C-17.6,455.6 -10.5,456.8 -5.9,457.8C-1.2,458.9 3.4,460.3 8.0,461.6C12.7,462.8 17.3,464.0 21.9,465.4C26.5,466.8 31.1,468.3 35.5,470.1C39.9,472.0 44.2,474.2 48.3,476.5C52.5,478.9 56.6,481.5 60.5,484.2C64.5,486.9 68.3,489.8 72.0,492.8C75.7,495.8 79.3,499.0 82.8,502.3C86.2,505.6 89.4,509.2 92.5,512.8C95.6,516.5 98.5,520.3 101.2,524.2C104.0,528.1 106.5,532.2 109.0,536.3C111.5,540.4 113.8,544.6 116.0,548.8C118.3,553.0 120.4,557.3 122.5,561.7C124.5,566.0 126.5,570.4 128.4,574.8C130.3,579.2 132.2,583.6 134.1,588.0C136.0,592.4 137.8,596.9 139.6,601.3C141.5,605.7 143.4,610.2 145.3,614.6C147.1,619.0 149.0,623.4 151.0,627.7C153.0,632.1 155.0,636.5 157.1,640.8C159.3,645.0 161.5,649.3 163.9,653.5C166.2,657.6 168.6,661.8 171.2,665.8C173.8,669.8 176.5,673.8 179.4,677.6C182.3,681.4 185.4,685.0 188.6,688.4C191.8,691.9 195.2,695.1 198.6,698.3C202.0,701.5 205.5,704.5 209.1,707.6C212.7,710.6 216.3,713.6 220.0,716.4C223.8,719.3 227.7,721.9 231.6,724.5C235.6,727.0 239.7,729.4 243.8,731.9C247.8,734.3 251.9,736.9 255.9,739.4C260.0,741.8 264.0,744.3 268.1,746.8C272.2,749.3 276.3,751.7 280.3,754.3C284.3,756.9 288.3,759.6 292.2,762.4C296.1,765.2 299.9,768.1 303.7,771.1C307.4,774.1 311.1,777.2 314.7,780.4C318.3,783.5 321.7,786.8 325.2,790.0C328.7,793.3 332.6,796.1 335.6,799.7C338.5,803.4 341.0,807.6 342.9,812.0C344.7,816.3 345.4,821.2 346.5,825.9C347.5,830.5 348.7,837.6 349.2,840.0"/><path d="M-20.0,458.6C-17.7,459.0 -10.7,460.0 -6.2,461.1C-1.6,462.1 2.9,463.5 7.4,464.7C11.9,466.0 16.5,467.1 20.9,468.5C25.4,469.9 29.9,471.4 34.1,473.3C38.4,475.1 42.6,477.4 46.6,479.7C50.6,482.1 54.5,484.7 58.4,487.4C62.2,490.1 65.9,492.9 69.5,495.9C73.0,498.9 76.5,502.1 79.8,505.4C83.1,508.8 86.2,512.3 89.1,515.9C92.0,519.6 94.7,523.4 97.3,527.3C99.9,531.1 102.4,535.1 104.7,539.2C107.1,543.2 109.3,547.3 111.5,551.5C113.7,555.6 115.8,559.8 117.8,564.0C119.9,568.2 121.8,572.5 123.7,576.8C125.6,581.1 127.4,585.4 129.2,589.7C131.1,594.0 132.8,598.4 134.7,602.7C136.5,607.0 138.3,611.3 140.2,615.6C142.1,619.9 144.0,624.1 146.0,628.4C148.0,632.6 150.0,636.9 152.1,641.0C154.2,645.2 156.3,649.4 158.6,653.5C160.8,657.6 163.1,661.7 165.5,665.7C168.0,669.7 170.5,673.6 173.2,677.4C176.0,681.2 178.9,684.8 181.8,688.4C184.8,691.9 187.9,695.3 191.1,698.7C194.3,702.0 197.5,705.3 200.9,708.5C204.2,711.7 207.6,714.8 211.1,717.8C214.7,720.8 218.4,723.6 222.2,726.3C225.9,729.0 229.9,731.5 233.7,734.1C237.6,736.6 241.5,739.3 245.4,741.8C249.2,744.4 253.1,747.0 257.0,749.5C260.9,752.1 264.9,754.6 268.8,757.2C272.7,759.8 276.5,762.5 280.3,765.2C284.1,768.0 287.8,770.8 291.5,773.7C295.1,776.6 298.8,779.6 302.3,782.6C305.9,785.6 309.4,788.8 312.9,791.8C316.5,794.8 320.5,797.3 323.5,800.8C326.5,804.3 329.1,808.4 330.8,812.6C332.6,816.9 333.3,821.7 334.3,826.2C335.4,830.8 336.6,837.7 337.1,840.0"/><path d="M-20.0,462.0C-17.7,462.4 -10.9,463.3 -6.5,464.3C-2.0,465.3 2.3,466.7 6.7,467.9C11.1,469.1 15.6,470.2 19.9,471.6C24.3,473.0 28.6,474.5 32.8,476.4C36.9,478.3 40.9,480.5 44.8,482.9C48.7,485.3 52.5,487.8 56.2,490.5C59.9,493.2 63.5,496.1 66.9,499.1C70.4,502.1 73.7,505.2 76.8,508.5C80.0,511.9 82.9,515.4 85.7,519.0C88.4,522.6 91.0,526.5 93.4,530.3C95.9,534.2 98.2,538.1 100.4,542.1C102.7,546.1 104.8,550.1 106.9,554.2C109.1,558.2 111.2,562.3 113.2,566.4C115.2,570.5 117.1,574.7 118.9,578.8C120.8,583.0 122.6,587.2 124.4,591.4C126.2,595.6 127.9,599.8 129.7,604.0C131.5,608.2 133.3,612.4 135.2,616.6C137.1,620.8 139.0,624.9 141.0,629.0C143.0,633.2 145.0,637.3 147.0,641.3C149.1,645.4 151.1,649.5 153.2,653.6C155.4,657.6 157.6,661.6 159.9,665.6C162.2,669.5 164.6,673.4 167.1,677.2C169.7,681.0 172.3,684.7 175.1,688.4C177.8,692.0 180.7,695.6 183.6,699.1C186.6,702.6 189.6,706.0 192.7,709.4C195.8,712.7 198.9,716.1 202.3,719.2C205.6,722.3 209.1,725.3 212.7,728.1C216.2,731.0 220.0,733.6 223.7,736.3C227.4,739.0 231.1,741.6 234.8,744.3C238.5,747.0 242.2,749.6 246.0,752.2C249.7,754.8 253.5,757.4 257.3,760.0C261.0,762.6 264.7,765.3 268.4,768.0C272.0,770.8 275.7,773.6 279.3,776.4C282.9,779.2 286.5,782.0 290.0,784.9C293.6,787.7 297.1,790.7 300.6,793.5C304.2,796.4 308.5,798.6 311.5,801.9C314.5,805.2 317.1,809.2 318.8,813.3C320.6,817.4 321.1,822.1 322.2,826.6C323.2,831.0 324.5,837.8 325.0,840.0"/><path d="M-20.0,465.5C-17.8,465.9 -11.1,466.8 -6.8,467.8C-2.4,468.7 1.9,470.1 6.2,471.3C10.5,472.5 14.9,473.6 19.1,475.0C23.4,476.4 27.6,477.9 31.7,479.7C35.7,481.6 39.6,483.8 43.5,486.2C47.3,488.5 51.0,491.0 54.6,493.7C58.2,496.4 61.7,499.2 65.1,502.1C68.4,505.1 71.7,508.1 74.7,511.4C77.8,514.7 80.7,518.1 83.4,521.7C86.1,525.3 88.6,529.0 91.0,532.8C93.4,536.6 95.6,540.5 97.8,544.4C100.0,548.3 102.1,552.2 104.2,556.2C106.2,560.1 108.3,564.1 110.2,568.2C112.2,572.2 114.0,576.3 115.8,580.4C117.6,584.5 119.4,588.6 121.1,592.7C122.9,596.9 124.6,601.0 126.3,605.1C128.1,609.3 129.8,613.4 131.6,617.5C133.4,621.6 135.3,625.6 137.2,629.7C139.1,633.7 141.0,637.8 143.0,641.8C145.0,645.8 146.9,649.8 149.0,653.8C151.0,657.8 153.1,661.8 155.3,665.6C157.5,669.5 159.8,673.4 162.2,677.1C164.6,680.9 167.2,684.6 169.8,688.2C172.4,691.8 175.1,695.3 177.9,698.8C180.7,702.3 183.5,705.7 186.5,709.1C189.4,712.4 192.4,715.7 195.5,718.8C198.7,722.0 202.0,725.0 205.3,727.8C208.7,730.7 212.2,733.3 215.7,736.1C219.2,738.8 222.6,741.5 226.1,744.2C229.6,746.9 233.1,749.6 236.7,752.3C240.2,754.9 243.8,757.5 247.3,760.2C250.8,762.9 254.3,765.6 257.7,768.3C261.2,771.1 264.6,773.9 268.0,776.8C271.4,779.6 274.8,782.4 278.2,785.3C281.5,788.2 284.8,791.2 288.2,794.1C291.6,796.9 295.5,799.2 298.4,802.5C301.3,805.8 303.6,809.8 305.3,813.8C307.0,817.9 307.5,822.5 308.5,826.8C309.5,831.2 310.8,837.8 311.2,840.0"/><path d="M-20.0,469.0C-17.8,469.4 -11.3,470.3 -7.0,471.2C-2.8,472.2 1.5,473.5 5.7,474.7C9.9,475.8 14.2,477.0 18.3,478.4C22.5,479.8 26.6,481.2 30.6,483.1C34.5,484.9 38.4,487.1 42.1,489.4C45.8,491.7 49.4,494.2 53.0,496.9C56.5,499.5 59.9,502.2 63.2,505.1C66.5,508.0 69.7,511.1 72.6,514.3C75.6,517.5 78.4,520.9 81.1,524.4C83.7,527.9 86.1,531.5 88.5,535.3C90.8,539.0 93.0,542.8 95.1,546.6C97.3,550.4 99.4,554.3 101.4,558.2C103.4,562.1 105.4,566.0 107.3,569.9C109.2,573.9 111.0,577.9 112.7,581.9C114.5,586.0 116.2,590.0 117.9,594.1C119.5,598.1 121.2,602.2 122.9,606.2C124.6,610.3 126.2,614.3 128.0,618.3C129.7,622.4 131.5,626.4 133.4,630.3C135.2,634.3 137.1,638.3 138.9,642.2C140.8,646.2 142.7,650.2 144.7,654.1C146.6,658.0 148.6,661.9 150.7,665.7C152.8,669.5 155.0,673.3 157.3,677.1C159.6,680.8 162.0,684.4 164.5,688.0C167.0,691.6 169.5,695.1 172.1,698.6C174.8,702.0 177.5,705.4 180.2,708.7C183.0,712.1 185.8,715.4 188.8,718.5C191.7,721.7 194.8,724.6 198.0,727.5C201.1,730.4 204.5,733.1 207.7,735.9C211.0,738.7 214.2,741.4 217.5,744.2C220.7,746.9 224.0,749.6 227.3,752.3C230.6,755.0 234.0,757.7 237.3,760.4C240.6,763.1 243.9,765.8 247.1,768.6C250.4,771.4 253.6,774.3 256.8,777.1C260.0,780.0 263.1,782.9 266.3,785.8C269.5,788.7 272.5,791.7 275.7,794.6C278.9,797.5 282.6,799.9 285.3,803.1C288.0,806.4 290.2,810.3 291.8,814.3C293.4,818.3 293.9,822.8 294.8,827.1C295.8,831.4 297.0,837.8 297.4,840.0"/><path d="M-20.0,472.5C-17.9,472.9 -11.5,473.8 -7.3,474.7C-3.1,475.6 1.0,476.9 5.1,478.1C9.3,479.2 13.4,480.3 17.5,481.7C21.5,483.1 25.6,484.6 29.5,486.4C33.3,488.3 37.1,490.4 40.7,492.7C44.3,495.0 47.9,497.4 51.3,500.0C54.8,502.6 58.1,505.3 61.3,508.1C64.5,511.0 67.6,514.0 70.6,517.1C73.5,520.3 76.2,523.6 78.8,527.1C81.3,530.5 83.7,534.1 86.0,537.7C88.3,541.4 90.4,545.1 92.5,548.8C94.6,552.6 96.6,556.4 98.6,560.2C100.6,564.0 102.5,567.8 104.4,571.7C106.2,575.6 107.9,579.5 109.6,583.5C111.3,587.4 113.0,591.4 114.6,595.4C116.2,599.3 117.8,603.3 119.5,607.3C121.1,611.3 122.7,615.3 124.4,619.2C126.1,623.2 127.8,627.1 129.6,631.0C131.3,634.9 133.1,638.8 134.9,642.7C136.7,646.6 138.5,650.5 140.4,654.3C142.3,658.2 144.2,662.0 146.2,665.8C148.2,669.6 150.2,673.3 152.4,677.0C154.6,680.7 156.9,684.3 159.2,687.8C161.5,691.4 163.9,694.9 166.4,698.3C168.9,701.7 171.4,705.1 174.0,708.4C176.6,711.7 179.2,715.0 182.0,718.2C184.8,721.3 187.7,724.3 190.6,727.3C193.6,730.2 196.7,732.9 199.7,735.7C202.7,738.5 205.8,741.3 208.8,744.1C211.9,746.9 214.9,749.7 218.0,752.4C221.1,755.1 224.2,757.8 227.3,760.6C230.4,763.3 233.4,766.1 236.5,768.9C239.5,771.8 242.5,774.6 245.5,777.5C248.5,780.4 251.5,783.3 254.4,786.3C257.4,789.2 260.3,792.2 263.2,795.1C266.2,798.0 269.7,800.5 272.2,803.8C274.7,807.1 276.8,810.9 278.3,814.8C279.8,818.7 280.3,823.2 281.2,827.4C282.0,831.6 283.2,837.9 283.6,840.0"/><path d="M-20.0,476.0C-17.9,476.4 -11.7,477.3 -7.6,478.2C-3.5,479.1 0.6,480.3 4.6,481.4C8.7,482.6 12.7,483.7 16.7,485.1C20.6,486.5 24.6,487.9 28.4,489.8C32.2,491.6 35.8,493.7 39.3,496.0C42.9,498.2 46.3,500.6 49.7,503.2C53.0,505.7 56.3,508.4 59.5,511.2C62.6,514.0 65.6,516.9 68.5,520.0C71.3,523.1 73.9,526.4 76.4,529.7C79.0,533.1 81.3,536.6 83.5,540.2C85.7,543.8 87.8,547.4 89.9,551.1C91.9,554.8 93.9,558.5 95.8,562.2C97.7,565.9 99.6,569.7 101.4,573.5C103.2,577.3 104.9,581.2 106.5,585.0C108.2,588.9 109.8,592.8 111.4,596.7C112.9,600.6 114.5,604.5 116.0,608.4C117.6,612.3 119.2,616.2 120.8,620.1C122.4,624.0 124.1,627.8 125.7,631.7C127.4,635.5 129.1,639.3 130.9,643.2C132.6,647.0 134.3,650.8 136.1,654.6C137.9,658.4 139.7,662.2 141.6,665.9C143.5,669.6 145.5,673.3 147.5,676.9C149.6,680.5 151.7,684.1 153.9,687.6C156.1,691.1 158.4,694.6 160.7,698.0C163.0,701.4 165.4,704.8 167.8,708.1C170.2,711.4 172.7,714.7 175.3,717.9C177.9,721.0 180.6,724.0 183.3,727.0C186.0,729.9 188.9,732.7 191.7,735.5C194.5,738.4 197.3,741.2 200.2,744.1C203.0,746.9 205.8,749.7 208.7,752.5C211.5,755.3 214.4,758.0 217.3,760.8C220.2,763.6 223.0,766.4 225.8,769.2C228.7,772.1 231.5,775.0 234.2,777.9C237.0,780.8 239.8,783.8 242.6,786.7C245.3,789.7 248.0,792.7 250.8,795.7C253.5,798.6 256.8,801.1 259.1,804.4C261.4,807.7 263.4,811.5 264.8,815.3C266.2,819.2 266.6,823.5 267.5,827.6C268.3,831.7 269.4,837.9 269.8,840.0"/><path d="M-20.0,479.5C-18.0,479.9 -11.9,480.8 -7.8,481.7C-3.8,482.5 0.1,483.7 4.1,484.8C8.0,486.0 12.0,487.1 15.9,488.5C19.7,489.8 23.6,491.3 27.3,493.1C31.0,494.9 34.5,497.1 38.0,499.3C41.4,501.5 44.8,503.8 48.1,506.3C51.3,508.8 54.5,511.4 57.6,514.2C60.6,516.9 63.6,519.8 66.4,522.8C69.1,525.9 71.7,529.1 74.1,532.4C76.6,535.7 78.8,539.2 81.0,542.7C83.2,546.2 85.2,549.7 87.2,553.3C89.2,556.9 91.2,560.6 93.0,564.2C94.9,567.9 96.8,571.6 98.5,575.3C100.2,579.0 101.8,582.8 103.4,586.6C105.1,590.4 106.6,594.2 108.1,598.0C109.6,601.8 111.1,605.7 112.6,609.5C114.1,613.3 115.6,617.1 117.2,621.0C118.7,624.8 120.3,628.5 121.9,632.3C123.5,636.1 125.2,639.9 126.8,643.6C128.5,647.4 130.1,651.1 131.8,654.9C133.5,658.6 135.2,662.3 137.0,666.0C138.8,669.6 140.7,673.3 142.6,676.9C144.5,680.4 146.5,684.0 148.6,687.4C150.7,690.9 152.8,694.4 154.9,697.8C157.1,701.1 159.3,704.5 161.6,707.8C163.8,711.1 166.1,714.4 168.5,717.5C170.9,720.7 173.4,723.7 176.0,726.7C178.5,729.7 181.1,732.5 183.7,735.4C186.3,738.3 188.9,741.1 191.5,744.0C194.1,746.8 196.7,749.7 199.4,752.5C202.0,755.4 204.7,758.1 207.3,761.0C210.0,763.8 212.6,766.7 215.2,769.5C217.8,772.4 220.4,775.4 223.0,778.3C225.6,781.3 228.2,784.2 230.7,787.2C233.3,790.2 235.8,793.2 238.3,796.2C240.9,799.2 243.8,801.7 246.0,805.0C248.1,808.3 249.9,812.0 251.2,815.8C252.6,819.6 253.0,823.8 253.8,827.9C254.6,831.9 255.7,838.0 256.1,840.0"/><path d="M-20.0,483.0C-18.0,483.4 -12.0,484.3 -8.1,485.1C-4.2,486.0 -0.3,487.1 3.5,488.2C7.4,489.3 11.3,490.5 15.1,491.8C18.8,493.2 22.6,494.7 26.2,496.5C29.8,498.2 33.2,500.4 36.6,502.5C40.0,504.7 43.2,507.0 46.4,509.5C49.6,511.9 52.8,514.5 55.7,517.2C58.7,519.9 61.6,522.7 64.3,525.7C67.0,528.7 69.5,531.9 71.8,535.1C74.2,538.3 76.4,541.7 78.5,545.1C80.6,548.6 82.6,552.1 84.6,555.6C86.6,559.1 88.4,562.6 90.3,566.2C92.1,569.8 93.9,573.4 95.5,577.1C97.2,580.7 98.8,584.4 100.4,588.1C101.9,591.9 103.4,595.6 104.9,599.3C106.3,603.1 107.8,606.8 109.2,610.6C110.7,614.3 112.1,618.1 113.6,621.8C115.1,625.6 116.6,629.3 118.1,633.0C119.7,636.7 121.2,640.4 122.8,644.1C124.3,647.8 125.9,651.5 127.5,655.1C129.1,658.8 130.8,662.4 132.5,666.0C134.1,669.7 135.9,673.3 137.7,676.8C139.5,680.3 141.4,683.8 143.3,687.3C145.2,690.7 147.2,694.1 149.2,697.5C151.2,700.9 153.3,704.2 155.4,707.5C157.5,710.8 159.6,714.0 161.8,717.2C164.0,720.4 166.3,723.4 168.6,726.4C170.9,729.4 173.4,732.3 175.7,735.2C178.1,738.1 180.5,741.0 182.9,743.9C185.3,746.8 187.6,749.7 190.1,752.6C192.5,755.5 194.9,758.3 197.3,761.2C199.8,764.0 202.2,766.9 204.6,769.8C207.0,772.8 209.4,775.7 211.7,778.7C214.1,781.7 216.5,784.7 218.8,787.7C221.2,790.7 223.5,793.7 225.8,796.7C228.2,799.7 230.9,802.4 232.9,805.6C234.9,808.9 236.5,812.6 237.7,816.3C238.9,820.1 239.4,824.2 240.1,828.1C240.9,832.1 241.9,838.0 242.3,840.0"/><path d="M-20.0,485.3C-18.0,485.6 -12.2,486.5 -8.3,487.4C-4.4,488.2 -0.6,489.3 3.2,490.4C7.0,491.5 10.8,492.6 14.5,494.0C18.2,495.4 21.9,496.8 25.5,498.6C29.0,500.4 32.4,502.5 35.7,504.6C39.0,506.8 42.2,509.1 45.4,511.5C48.5,513.9 51.6,516.5 54.5,519.1C57.4,521.8 60.3,524.6 62.9,527.6C65.5,530.5 68.0,533.6 70.3,536.8C72.7,540.0 74.8,543.4 76.9,546.7C79.0,550.1 81.0,553.6 82.9,557.0C84.8,560.5 86.7,564.0 88.5,567.5C90.3,571.1 92.0,574.6 93.6,578.2C95.3,581.8 96.8,585.5 98.4,589.1C99.9,592.8 101.3,596.5 102.8,600.2C104.2,603.9 105.6,607.6 107.0,611.3C108.4,615.0 109.8,618.7 111.3,622.4C112.7,626.1 114.2,629.7 115.7,633.4C117.1,637.1 118.7,640.7 120.2,644.4C121.7,648.0 123.2,651.7 124.7,655.3C126.3,658.9 127.9,662.5 129.5,666.1C131.1,669.7 132.8,673.2 134.5,676.7C136.3,680.2 138.0,683.7 139.9,687.1C141.7,690.6 143.6,694.0 145.5,697.3C147.4,700.7 149.4,704.0 151.3,707.3C153.3,710.6 155.3,713.8 157.4,717.0C159.5,720.1 161.7,723.2 163.9,726.2C166.1,729.3 168.3,732.1 170.6,735.1C172.8,738.0 175.0,741.0 177.3,743.9C179.5,746.8 181.8,749.7 184.0,752.6C186.3,755.5 188.6,758.4 190.9,761.3C193.1,764.2 195.4,767.1 197.7,770.0C200.0,773.0 202.2,776.0 204.5,779.0C206.7,782.0 208.9,784.9 211.2,788.0C213.4,791.0 215.6,794.1 217.8,797.1C220.0,800.1 222.5,802.8 224.4,806.0C226.3,809.3 227.8,812.9 229.0,816.7C230.1,820.4 230.6,824.4 231.3,828.3C232.0,832.2 233.0,838.0 233.3,840.0"/><path d="M-20.0,487.2C-18.1,487.6 -12.3,488.5 -8.5,489.3C-4.6,490.2 -0.9,491.2 2.9,492.3C6.7,493.4 10.4,494.5 14.1,495.9C17.7,497.3 21.4,498.7 24.9,500.5C28.3,502.3 31.7,504.3 34.9,506.5C38.2,508.6 41.4,510.9 44.5,513.3C47.6,515.7 50.6,518.2 53.5,520.8C56.4,523.5 59.1,526.2 61.7,529.2C64.3,532.1 66.7,535.2 69.0,538.3C71.3,541.5 73.5,544.8 75.5,548.1C77.6,551.4 79.5,554.9 81.4,558.3C83.3,561.7 85.1,565.2 86.9,568.7C88.7,572.1 90.4,575.7 92.0,579.2C93.6,582.8 95.1,586.4 96.6,590.0C98.1,593.6 99.5,597.3 100.9,600.9C102.3,604.6 103.7,608.2 105.1,611.9C106.5,615.6 107.8,619.2 109.2,622.9C110.6,626.5 112.1,630.1 113.5,633.8C115.0,637.4 116.4,641.0 117.9,644.6C119.4,648.2 120.8,651.8 122.3,655.4C123.8,659.0 125.4,662.6 126.9,666.1C128.5,669.7 130.1,673.2 131.8,676.7C133.4,680.2 135.2,683.6 136.9,687.0C138.7,690.4 140.5,693.8 142.3,697.2C144.1,700.5 146.0,703.8 147.9,707.1C149.7,710.4 151.6,713.6 153.6,716.8C155.6,720.0 157.7,723.0 159.8,726.1C161.8,729.1 164.0,732.0 166.1,735.0C168.2,737.9 170.3,740.9 172.4,743.9C174.5,746.8 176.7,749.7 178.8,752.7C180.9,755.6 183.1,758.5 185.3,761.4C187.4,764.3 189.6,767.2 191.7,770.2C193.9,773.2 196.0,776.2 198.1,779.2C200.3,782.2 202.4,785.2 204.5,788.2C206.6,791.3 208.7,794.3 210.8,797.4C212.9,800.4 215.3,803.1 217.1,806.4C218.8,809.7 220.3,813.3 221.4,816.9C222.5,820.6 222.9,824.6 223.6,828.4C224.3,832.3 225.3,838.1 225.6,840.0"/><path d="M-20.0,489.1C-18.1,489.4 -12.4,490.3 -8.6,491.2C-4.8,492.0 -1.1,493.0 2.6,494.1C6.3,495.2 10.0,496.3 13.6,497.7C17.3,499.0 20.8,500.5 24.3,502.3C27.7,504.0 31.0,506.1 34.2,508.2C37.4,510.3 40.6,512.6 43.6,515.0C46.7,517.4 49.6,519.8 52.5,522.4C55.3,525.0 58.1,527.8 60.6,530.7C63.2,533.6 65.6,536.6 67.8,539.8C70.1,542.9 72.2,546.2 74.2,549.4C76.2,552.7 78.1,556.1 80.0,559.5C81.9,562.8 83.7,566.3 85.4,569.7C87.2,573.2 88.8,576.7 90.4,580.2C92.0,583.7 93.5,587.3 95.0,590.8C96.4,594.4 97.8,598.0 99.2,601.6C100.6,605.2 101.9,608.9 103.3,612.5C104.6,616.1 105.9,619.7 107.3,623.3C108.7,626.9 110.1,630.5 111.5,634.1C112.9,637.7 114.3,641.3 115.8,644.9C117.2,648.4 118.6,652.0 120.1,655.6C121.5,659.1 123.0,662.7 124.5,666.2C126.0,669.7 127.6,673.2 129.2,676.7C130.8,680.1 132.4,683.5 134.1,686.9C135.8,690.3 137.5,693.7 139.2,697.0C141.0,700.4 142.7,703.7 144.5,706.9C146.4,710.2 148.2,713.5 150.0,716.6C151.9,719.8 153.9,722.9 155.8,725.9C157.8,729.0 159.8,731.9 161.8,734.9C163.8,737.9 165.8,740.9 167.8,743.8C169.8,746.8 171.8,749.7 173.9,752.7C175.9,755.6 177.9,758.5 180.0,761.5C182.0,764.4 184.0,767.4 186.1,770.4C188.1,773.4 190.1,776.4 192.2,779.4C194.2,782.4 196.2,785.4 198.2,788.5C200.2,791.5 202.2,794.6 204.2,797.7C206.1,800.7 208.4,803.5 210.1,806.7C211.8,810.0 213.2,813.6 214.2,817.2C215.3,820.8 215.7,824.8 216.4,828.6C217.0,832.4 218.0,838.1 218.3,840.0"/><path d="M-20.0,490.9C-18.1,491.2 -12.5,492.1 -8.7,493.0C-5.0,493.8 -1.3,494.8 2.3,495.9C6.0,496.9 9.7,498.1 13.2,499.4C16.8,500.8 20.3,502.2 23.7,504.0C27.1,505.7 30.3,507.8 33.5,509.9C36.7,512.0 39.8,514.3 42.8,516.6C45.8,519.0 48.7,521.4 51.5,524.0C54.3,526.6 57.0,529.3 59.5,532.1C62.1,535.0 64.4,538.0 66.6,541.1C68.9,544.2 70.9,547.5 72.9,550.7C74.9,554.0 76.8,557.3 78.7,560.6C80.5,564.0 82.3,567.3 84.0,570.8C85.7,574.2 87.4,577.6 88.9,581.1C90.5,584.6 92.0,588.1 93.4,591.6C94.8,595.2 96.2,598.7 97.5,602.3C98.9,605.9 100.2,609.5 101.5,613.0C102.8,616.6 104.1,620.2 105.5,623.8C106.8,627.3 108.2,630.9 109.5,634.5C110.9,638.0 112.3,641.5 113.7,645.1C115.1,648.6 116.4,652.2 117.8,655.7C119.3,659.2 120.7,662.7 122.1,666.2C123.6,669.7 125.1,673.2 126.6,676.6C128.2,680.1 129.8,683.5 131.4,686.8C133.0,690.2 134.6,693.6 136.3,696.9C137.9,700.2 139.6,703.5 141.4,706.8C143.1,710.0 144.8,713.3 146.6,716.5C148.4,719.6 150.2,722.7 152.1,725.8C153.9,728.8 155.9,731.8 157.7,734.8C159.6,737.8 161.5,740.8 163.4,743.8C165.3,746.8 167.2,749.8 169.1,752.7C171.0,755.7 172.9,758.6 174.8,761.6C176.8,764.5 178.7,767.5 180.6,770.5C182.5,773.5 184.5,776.6 186.4,779.6C188.3,782.6 190.2,785.7 192.1,788.7C194.0,791.8 195.9,794.9 197.7,797.9C199.6,801.0 201.8,803.8 203.4,807.0C204.9,810.3 206.3,813.9 207.3,817.5C208.3,821.1 208.7,825.0 209.3,828.7C210.0,832.5 210.9,838.1 211.2,840.0"/><path d="M-20.0,492.6C-18.1,493.0 -12.6,493.9 -8.9,494.7C-5.2,495.5 -1.5,496.5 2.1,497.6C5.7,498.6 9.3,499.8 12.8,501.1C16.3,502.5 19.8,503.9 23.2,505.7C26.5,507.4 29.7,509.5 32.8,511.5C35.9,513.6 39.0,515.9 42.0,518.2C44.9,520.5 47.8,522.9 50.6,525.5C53.3,528.1 56.0,530.7 58.5,533.6C61.0,536.4 63.3,539.4 65.5,542.5C67.7,545.5 69.7,548.7 71.7,551.9C73.6,555.2 75.5,558.4 77.3,561.7C79.2,565.0 80.9,568.4 82.6,571.8C84.3,575.1 85.9,578.5 87.4,582.0C89.0,585.4 90.4,588.9 91.8,592.4C93.2,595.9 94.6,599.4 95.9,603.0C97.2,606.5 98.5,610.0 99.8,613.6C101.1,617.1 102.4,620.7 103.7,624.2C105.0,627.7 106.3,631.3 107.6,634.8C108.9,638.3 110.3,641.8 111.6,645.3C113.0,648.8 114.3,652.3 115.7,655.8C117.1,659.3 118.4,662.8 119.9,666.3C121.3,669.7 122.7,673.2 124.2,676.6C125.7,680.0 127.2,683.4 128.7,686.8C130.3,690.1 131.8,693.4 133.4,696.8C135.0,700.1 136.6,703.4 138.2,706.6C139.9,709.9 141.5,713.1 143.2,716.3C144.9,719.5 146.6,722.6 148.4,725.6C150.2,728.7 152.0,731.7 153.7,734.7C155.5,737.7 157.3,740.7 159.0,743.8C160.8,746.8 162.6,749.8 164.4,752.7C166.2,755.7 168.0,758.7 169.8,761.7C171.6,764.7 173.5,767.7 175.3,770.7C177.1,773.7 178.9,776.7 180.7,779.8C182.6,782.8 184.4,785.9 186.2,789.0C188.0,792.0 189.7,795.1 191.5,798.2C193.3,801.3 195.3,804.1 196.8,807.4C198.3,810.6 199.5,814.1 200.5,817.7C201.4,821.3 201.9,825.1 202.5,828.8C203.1,832.5 204.0,838.1 204.3,840.0"/><path d="M-20.0,494.4C-18.2,494.7 -12.6,495.6 -9.0,496.4C-5.4,497.2 -1.8,498.2 1.8,499.2C5.4,500.3 9.0,501.4 12.4,502.8C15.9,504.1 19.3,505.6 22.6,507.3C25.9,509.0 29.0,511.1 32.1,513.1C35.2,515.2 38.2,517.4 41.2,519.7C44.1,522.0 47.0,524.4 49.7,527.0C52.4,529.5 55.0,532.2 57.5,535.0C59.9,537.8 62.2,540.8 64.3,543.8C66.5,546.8 68.5,550.0 70.4,553.2C72.4,556.3 74.2,559.6 76.0,562.8C77.8,566.1 79.6,569.4 81.2,572.8C82.9,576.1 84.5,579.5 86.0,582.9C87.5,586.3 88.9,589.7 90.3,593.2C91.7,596.6 93.0,600.1 94.3,603.6C95.6,607.1 96.9,610.6 98.1,614.1C99.4,617.6 100.6,621.1 101.9,624.6C103.2,628.1 104.5,631.6 105.7,635.1C107.0,638.6 108.4,642.1 109.7,645.5C111.0,649.0 112.3,652.5 113.6,656.0C114.9,659.4 116.2,662.9 117.6,666.3C119.0,669.8 120.4,673.2 121.8,676.6C123.2,680.0 124.6,683.3 126.1,686.7C127.6,690.0 129.1,693.3 130.6,696.6C132.1,699.9 133.6,703.2 135.2,706.5C136.7,709.7 138.3,712.9 139.9,716.1C141.5,719.3 143.1,722.4 144.8,725.5C146.4,728.6 148.1,731.6 149.8,734.6C151.5,737.7 153.1,740.7 154.8,743.7C156.5,746.7 158.1,749.8 159.8,752.8C161.5,755.8 163.2,758.8 164.9,761.8C166.6,764.8 168.3,767.8 170.1,770.8C171.8,773.9 173.5,776.9 175.2,780.0C176.9,783.0 178.6,786.1 180.3,789.2C182.0,792.3 183.7,795.4 185.4,798.5C187.0,801.5 188.9,804.4 190.3,807.7C191.8,810.9 193.0,814.4 193.9,818.0C194.8,821.5 195.2,825.3 195.8,829.0C196.4,832.6 197.2,838.2 197.5,840.0"/><path d="M-20.0,496.0C-18.2,496.4 -12.7,497.3 -9.1,498.1C-5.5,498.9 -2.0,499.8 1.6,500.9C5.1,501.9 8.6,503.0 12.0,504.4C15.4,505.7 18.8,507.2 22.1,508.9C25.3,510.6 28.4,512.7 31.5,514.7C34.5,516.8 37.5,519.0 40.4,521.3C43.3,523.5 46.1,525.9 48.8,528.4C51.5,531.0 54.0,533.6 56.5,536.4C58.9,539.1 61.1,542.1 63.2,545.1C65.4,548.1 67.3,551.2 69.2,554.4C71.2,557.5 73.0,560.7 74.8,563.9C76.5,567.2 78.3,570.4 79.9,573.7C81.5,577.0 83.1,580.4 84.6,583.7C86.1,587.1 87.5,590.5 88.8,593.9C90.2,597.4 91.5,600.8 92.7,604.3C94.0,607.7 95.2,611.2 96.5,614.7C97.7,618.1 98.9,621.6 100.2,625.1C101.4,628.5 102.6,632.0 103.9,635.4C105.2,638.9 106.4,642.3 107.7,645.8C109.0,649.2 110.2,652.7 111.5,656.1C112.8,659.5 114.1,662.9 115.4,666.4C116.7,669.8 118.0,673.2 119.4,676.5C120.8,679.9 122.2,683.2 123.6,686.6C125.0,689.9 126.4,693.2 127.8,696.5C129.3,699.8 130.7,703.1 132.2,706.3C133.6,709.5 135.1,712.8 136.6,716.0C138.1,719.1 139.7,722.3 141.2,725.4C142.8,728.5 144.4,731.5 146.0,734.5C147.5,737.6 149.1,740.6 150.6,743.7C152.2,746.7 153.7,749.8 155.3,752.8C156.9,755.8 158.5,758.8 160.1,761.9C161.7,764.9 163.3,767.9 164.9,771.0C166.5,774.0 168.2,777.1 169.8,780.2C171.4,783.2 173.0,786.3 174.6,789.4C176.2,792.5 177.8,795.6 179.3,798.7C180.9,801.8 182.7,804.7 184.0,808.0C185.3,811.2 186.5,814.7 187.3,818.2C188.2,821.7 188.6,825.5 189.2,829.1C189.8,832.7 190.6,838.2 190.8,840.0"/><path d="M-20.0,497.7C-18.2,498.1 -12.8,499.0 -9.3,499.7C-5.7,500.5 -2.2,501.4 1.3,502.5C4.8,503.5 8.3,504.6 11.6,506.0C15.0,507.3 18.4,508.8 21.6,510.5C24.8,512.2 27.8,514.2 30.8,516.3C33.8,518.3 36.7,520.5 39.6,522.8C42.4,525.0 45.2,527.4 47.9,529.9C50.5,532.4 53.1,535.0 55.5,537.7C57.8,540.5 60.0,543.4 62.1,546.4C64.2,549.3 66.2,552.4 68.1,555.5C70.0,558.6 71.8,561.8 73.5,565.0C75.3,568.2 77.0,571.4 78.6,574.7C80.2,577.9 81.7,581.2 83.2,584.6C84.6,587.9 86.0,591.3 87.4,594.7C88.7,598.1 89.9,601.5 91.2,604.9C92.4,608.3 93.6,611.7 94.8,615.2C96.1,618.6 97.2,622.0 98.4,625.5C99.6,628.9 100.9,632.3 102.1,635.7C103.3,639.2 104.6,642.6 105.8,646.0C107.0,649.4 108.2,652.8 109.5,656.2C110.7,659.6 112.0,663.0 113.2,666.4C114.5,669.8 115.8,673.2 117.1,676.5C118.4,679.8 119.7,683.2 121.0,686.5C122.4,689.8 123.7,693.1 125.1,696.4C126.5,699.7 127.8,702.9 129.2,706.2C130.6,709.4 132.0,712.6 133.4,715.8C134.8,719.0 136.3,722.1 137.8,725.2C139.2,728.3 140.7,731.4 142.1,734.5C143.6,737.5 145.0,740.6 146.5,743.7C148.0,746.7 149.4,749.8 150.9,752.8C152.4,755.9 153.8,758.9 155.3,762.0C156.8,765.0 158.4,768.1 159.9,771.1C161.4,774.2 162.9,777.3 164.4,780.4C165.9,783.4 167.5,786.5 169.0,789.6C170.5,792.7 171.9,795.9 173.4,799.0C174.9,802.1 176.5,805.0 177.8,808.3C179.0,811.5 180.1,815.0 180.9,818.5C181.7,821.9 182.1,825.6 182.7,829.2C183.2,832.8 184.0,838.2 184.3,840.0"/><path d="M-20.0,499.4C-18.2,499.7 -12.9,500.6 -9.4,501.4C-5.9,502.2 -2.4,503.0 1.1,504.1C4.5,505.1 7.9,506.2 11.3,507.6C14.6,508.9 17.9,510.4 21.0,512.1C24.2,513.8 27.2,515.8 30.2,517.8C33.1,519.9 36.0,522.0 38.8,524.3C41.6,526.5 44.4,528.8 47.0,531.3C49.6,533.8 52.1,536.3 54.5,539.1C56.8,541.8 59.0,544.7 61.0,547.6C63.1,550.6 65.0,553.6 66.9,556.7C68.8,559.8 70.5,562.9 72.3,566.1C74.0,569.2 75.7,572.4 77.3,575.6C78.8,578.9 80.4,582.1 81.8,585.4C83.2,588.7 84.6,592.0 85.9,595.4C87.2,598.7 88.4,602.1 89.7,605.5C90.9,608.9 92.1,612.3 93.2,615.7C94.4,619.1 95.6,622.5 96.7,625.9C97.9,629.3 99.1,632.7 100.3,636.0C101.5,639.4 102.7,642.8 103.9,646.2C105.1,649.6 106.3,653.0 107.5,656.3C108.7,659.7 109.9,663.1 111.1,666.4C112.3,669.8 113.5,673.1 114.8,676.5C116.0,679.8 117.3,683.1 118.5,686.4C119.8,689.7 121.1,693.0 122.4,696.2C123.7,699.5 125.0,702.8 126.3,706.0C127.6,709.2 128.9,712.5 130.2,715.7C131.6,718.8 132.9,722.0 134.3,725.1C135.7,728.2 137.0,731.3 138.4,734.4C139.7,737.5 141.1,740.5 142.4,743.6C143.8,746.7 145.1,749.8 146.5,752.9C147.9,755.9 149.2,759.0 150.6,762.0C152.0,765.1 153.5,768.2 154.9,771.3C156.3,774.3 157.7,777.4 159.1,780.5C160.5,783.6 162.0,786.7 163.4,789.9C164.8,793.0 166.2,796.1 167.6,799.2C168.9,802.3 170.5,805.3 171.6,808.6C172.8,811.8 173.8,815.2 174.5,818.7C175.3,822.2 175.7,825.8 176.2,829.3C176.8,832.9 177.5,838.2 177.8,840.0"/><path d="M-20.0,501.0C-18.3,501.3 -13.0,502.2 -9.5,503.0C-6.1,503.8 -2.6,504.6 0.8,505.6C4.2,506.7 7.6,507.8 10.9,509.1C14.2,510.5 17.4,511.9 20.5,513.6C23.6,515.3 26.6,517.3 29.5,519.3C32.4,521.4 35.3,523.5 38.1,525.7C40.8,527.9 43.6,530.2 46.1,532.7C48.7,535.1 51.2,537.7 53.5,540.4C55.8,543.1 57.9,546.0 60.0,548.9C62.0,551.8 63.9,554.8 65.7,557.8C67.6,560.9 69.3,564.0 71.0,567.1C72.8,570.2 74.4,573.4 76.0,576.6C77.5,579.8 79.0,583.0 80.4,586.2C81.9,589.5 83.2,592.8 84.5,596.1C85.7,599.4 87.0,602.8 88.2,606.1C89.4,609.5 90.5,612.8 91.6,616.2C92.8,619.6 93.9,622.9 95.1,626.3C96.2,629.6 97.4,633.0 98.5,636.4C99.7,639.7 100.9,643.1 102.0,646.4C103.2,649.8 104.3,653.1 105.5,656.5C106.6,659.8 107.8,663.1 108.9,666.5C110.1,669.8 111.3,673.1 112.5,676.4C113.7,679.7 114.9,683.0 116.1,686.3C117.3,689.6 118.5,692.9 119.7,696.1C120.9,699.4 122.2,702.6 123.4,705.9C124.6,709.1 125.9,712.3 127.1,715.5C128.3,718.7 129.6,721.8 130.9,725.0C132.1,728.1 133.4,731.2 134.7,734.3C135.9,737.4 137.2,740.5 138.4,743.6C139.7,746.7 140.9,749.8 142.2,752.9C143.4,756.0 144.7,759.0 146.0,762.1C147.3,765.2 148.6,768.3 149.9,771.4C151.2,774.5 152.6,777.6 153.9,780.7C155.2,783.8 156.6,786.9 157.9,790.1C159.2,793.2 160.5,796.3 161.8,799.5C163.0,802.6 164.4,805.6 165.5,808.8C166.6,812.1 167.5,815.5 168.3,818.9C169.0,822.4 169.4,825.9 169.9,829.4C170.4,833.0 171.1,838.2 171.4,840.0"/><path d="M-20.0,502.6C-18.3,502.9 -13.1,503.8 -9.6,504.6C-6.2,505.4 -2.8,506.2 0.6,507.2C3.9,508.2 7.3,509.4 10.5,510.7C13.7,512.0 17.0,513.5 20.0,515.2C23.1,516.9 26.0,518.9 28.9,520.9C31.8,522.9 34.6,525.0 37.3,527.2C40.0,529.4 42.7,531.7 45.3,534.1C47.8,536.5 50.3,539.0 52.5,541.7C54.8,544.4 56.9,547.2 58.9,550.1C60.9,553.0 62.8,556.0 64.6,559.0C66.4,562.0 68.1,565.0 69.8,568.1C71.5,571.2 73.1,574.3 74.7,577.5C76.2,580.6 77.7,583.8 79.1,587.1C80.5,590.3 81.8,593.6 83.0,596.8C84.3,600.1 85.5,603.4 86.7,606.7C87.8,610.0 88.9,613.4 90.1,616.7C91.2,620.0 92.3,623.4 93.4,626.7C94.5,630.0 95.6,633.3 96.8,636.7C97.9,640.0 99.0,643.3 100.1,646.6C101.3,649.9 102.4,653.3 103.5,656.6C104.6,659.9 105.7,663.2 106.8,666.5C108.0,669.8 109.1,673.1 110.2,676.4C111.4,679.7 112.5,683.0 113.6,686.2C114.8,689.5 115.9,692.8 117.1,696.0C118.2,699.2 119.4,702.5 120.5,705.7C121.7,708.9 122.8,712.2 124.0,715.3C125.2,718.5 126.3,721.7 127.5,724.8C128.7,728.0 129.8,731.1 131.0,734.2C132.2,737.3 133.3,740.5 134.4,743.6C135.6,746.7 136.7,749.8 137.9,752.9C139.0,756.0 140.2,759.1 141.4,762.2C142.6,765.3 143.8,768.4 145.0,771.5C146.2,774.7 147.5,777.8 148.7,780.9C149.9,784.0 151.2,787.2 152.4,790.3C153.6,793.4 154.8,796.6 156.0,799.7C157.2,802.9 158.5,805.9 159.5,809.1C160.5,812.4 161.4,815.8 162.0,819.2C162.7,822.6 163.1,826.1 163.6,829.6C164.1,833.0 164.8,838.3 165.0,840.0"/><path d="M-20.0,504.2C-18.3,504.5 -13.2,505.4 -9.8,506.2C-6.4,506.9 -3.0,507.7 0.3,508.8C3.6,509.8 6.9,510.9 10.1,512.2C13.3,513.5 16.5,515.0 19.5,516.7C22.5,518.4 25.4,520.4 28.3,522.3C31.1,524.3 33.9,526.4 36.6,528.6C39.3,530.8 41.9,533.1 44.4,535.5C46.9,537.9 49.3,540.4 51.6,543.0C53.8,545.7 55.9,548.5 57.9,551.3C59.8,554.2 61.7,557.1 63.5,560.1C65.2,563.1 67.0,566.1 68.6,569.1C70.3,572.2 71.9,575.3 73.4,578.4C74.9,581.5 76.4,584.7 77.7,587.9C79.1,591.1 80.4,594.3 81.6,597.5C82.9,600.8 84.0,604.1 85.2,607.3C86.3,610.6 87.4,613.9 88.5,617.2C89.6,620.5 90.7,623.8 91.8,627.1C92.9,630.4 93.9,633.7 95.0,637.0C96.1,640.2 97.2,643.5 98.3,646.8C99.4,650.1 100.5,653.4 101.5,656.7C102.6,660.0 103.7,663.3 104.8,666.5C105.8,669.8 106.9,673.1 108.0,676.4C109.1,679.6 110.1,682.9 111.2,686.2C112.3,689.4 113.4,692.6 114.5,695.9C115.6,699.1 116.6,702.3 117.7,705.6C118.8,708.8 119.8,712.0 120.9,715.2C122.0,718.4 123.1,721.6 124.2,724.7C125.2,727.9 126.3,731.0 127.4,734.1C128.4,737.3 129.4,740.4 130.5,743.5C131.5,746.7 132.6,749.8 133.6,752.9C134.7,756.1 135.8,759.2 136.8,762.3C137.9,765.4 139.1,768.6 140.2,771.7C141.3,774.8 142.4,777.9 143.6,781.1C144.7,784.2 145.9,787.4 147.0,790.5C148.1,793.7 149.2,796.8 150.3,800.0C151.4,803.1 152.6,806.2 153.5,809.4C154.4,812.7 155.2,816.0 155.9,819.4C156.5,822.8 156.9,826.2 157.3,829.7C157.8,833.1 158.5,838.3 158.7,840.0"/><path d="M-20.0,505.8C-18.3,506.1 -13.2,507.0 -9.9,507.8C-6.6,508.5 -3.2,509.3 0.1,510.3C3.4,511.3 6.6,512.4 9.8,513.7C12.9,515.1 16.0,516.5 19.0,518.2C22.0,519.9 24.8,521.9 27.6,523.8C30.4,525.8 33.2,527.9 35.8,530.0C38.5,532.2 41.1,534.4 43.6,536.8C46.0,539.2 48.4,541.7 50.6,544.3C52.8,546.9 54.9,549.7 56.8,552.5C58.8,555.4 60.6,558.3 62.3,561.2C64.1,564.2 65.8,567.2 67.4,570.2C69.1,573.2 70.7,576.2 72.2,579.3C73.7,582.4 75.1,585.5 76.4,588.7C77.8,591.8 79.0,595.0 80.2,598.2C81.4,601.4 82.6,604.7 83.7,607.9C84.8,611.2 85.9,614.4 87.0,617.7C88.0,620.9 89.1,624.2 90.1,627.5C91.2,630.7 92.3,634.0 93.3,637.3C94.4,640.5 95.4,643.8 96.5,647.0C97.5,650.3 98.6,653.5 99.6,656.8C100.6,660.1 101.7,663.3 102.7,666.6C103.7,669.8 104.7,673.1 105.8,676.3C106.8,679.6 107.8,682.8 108.8,686.1C109.8,689.3 110.9,692.5 111.9,695.8C112.9,699.0 113.9,702.2 114.9,705.4C115.9,708.6 116.9,711.9 117.9,715.0C118.9,718.2 119.9,721.4 120.8,724.6C121.8,727.7 122.8,730.9 123.7,734.0C124.7,737.2 125.6,740.4 126.6,743.5C127.5,746.7 128.4,749.8 129.4,753.0C130.4,756.1 131.3,759.2 132.3,762.4C133.3,765.5 134.3,768.7 135.4,771.8C136.4,775.0 137.4,778.1 138.5,781.3C139.5,784.4 140.6,787.6 141.6,790.7C142.7,793.9 143.7,797.0 144.7,800.2C145.7,803.4 146.7,806.5 147.6,809.7C148.4,812.9 149.2,816.3 149.8,819.6C150.3,823.0 150.7,826.4 151.2,829.8C151.6,833.2 152.3,838.3 152.5,840.0"/><path d="M-20.0,507.4C-18.3,507.7 -13.3,508.6 -10.0,509.3C-6.7,510.1 -3.4,510.8 -0.2,511.8C3.1,512.8 6.3,513.9 9.4,515.3C12.5,516.6 15.6,518.0 18.5,519.7C21.5,521.4 24.3,523.3 27.0,525.3C29.8,527.3 32.5,529.3 35.1,531.5C37.7,533.6 40.3,535.8 42.7,538.2C45.2,540.5 47.5,543.0 49.7,545.6C51.9,548.2 53.9,550.9 55.8,553.7C57.7,556.5 59.5,559.4 61.2,562.3C63.0,565.2 64.6,568.2 66.3,571.2C67.9,574.2 69.4,577.2 70.9,580.2C72.4,583.3 73.8,586.4 75.1,589.5C76.4,592.6 77.6,595.8 78.8,598.9C80.0,602.1 81.1,605.3 82.2,608.5C83.3,611.7 84.4,615.0 85.4,618.2C86.5,621.4 87.5,624.6 88.5,627.9C89.6,631.1 90.6,634.3 91.6,637.5C92.6,640.8 93.6,644.0 94.7,647.2C95.7,650.5 96.7,653.7 97.7,656.9C98.7,660.2 99.7,663.4 100.6,666.6C101.6,669.9 102.6,673.1 103.6,676.3C104.5,679.5 105.5,682.8 106.5,686.0C107.4,689.2 108.4,692.4 109.3,695.6C110.2,698.9 111.2,702.1 112.1,705.3C113.0,708.5 113.9,711.7 114.8,714.9C115.7,718.1 116.7,721.3 117.5,724.5C118.4,727.6 119.3,730.8 120.2,734.0C121.0,737.1 121.8,740.3 122.7,743.5C123.5,746.7 124.4,749.8 125.2,753.0C126.1,756.2 126.9,759.3 127.8,762.5C128.7,765.6 129.7,768.8 130.6,772.0C131.5,775.1 132.5,778.3 133.4,781.4C134.4,784.6 135.4,787.8 136.3,790.9C137.2,794.1 138.2,797.3 139.1,800.4C140.0,803.6 140.9,806.7 141.7,810.0C142.5,813.2 143.1,816.5 143.7,819.8C144.2,823.2 144.6,826.6 145.0,829.9C145.5,833.3 146.1,838.3 146.3,840.0"/><path d="M-20.0,508.9C-18.4,509.2 -13.4,510.1 -10.1,510.9C-6.9,511.6 -3.6,512.3 -0.4,513.3C2.8,514.3 6.0,515.4 9.0,516.8C12.1,518.1 15.1,519.5 18.0,521.2C20.9,522.9 23.7,524.8 26.4,526.8C29.1,528.7 31.8,530.7 34.4,532.9C37.0,535.0 39.5,537.2 41.9,539.5C44.3,541.9 46.6,544.3 48.8,546.9C50.9,549.4 52.9,552.2 54.7,554.9C56.6,557.7 58.4,560.6 60.1,563.4C61.8,566.3 63.5,569.2 65.1,572.2C66.7,575.1 68.2,578.1 69.7,581.1C71.1,584.1 72.5,587.2 73.8,590.3C75.1,593.4 76.3,596.5 77.5,599.6C78.6,602.8 79.7,605.9 80.8,609.1C81.9,612.3 82.9,615.5 83.9,618.7C84.9,621.9 85.9,625.1 86.9,628.2C87.9,631.4 88.9,634.6 89.9,637.8C90.9,641.0 91.9,644.2 92.9,647.4C93.8,650.6 94.8,653.8 95.8,657.0C96.7,660.2 97.7,663.5 98.6,666.7C99.5,669.9 100.5,673.1 101.4,676.3C102.3,679.5 103.2,682.7 104.1,685.9C105.0,689.1 105.9,692.3 106.7,695.5C107.6,698.7 108.5,701.9 109.3,705.1C110.2,708.3 111.0,711.6 111.8,714.7C112.7,717.9 113.5,721.1 114.3,724.3C115.1,727.5 115.8,730.7 116.6,733.9C117.4,737.1 118.1,740.3 118.8,743.5C119.6,746.6 120.3,749.8 121.1,753.0C121.8,756.2 122.6,759.4 123.4,762.6C124.2,765.7 125.0,768.9 125.9,772.1C126.7,775.3 127.6,778.4 128.4,781.6C129.3,784.8 130.2,788.0 131.0,791.1C131.9,794.3 132.7,797.5 133.5,800.7C134.3,803.9 135.2,807.0 135.9,810.3C136.6,813.5 137.1,816.8 137.7,820.1C138.2,823.4 138.5,826.7 138.9,830.0C139.4,833.4 140.0,838.3 140.2,840.0"/><path d="M-20.0,510.5C-18.4,510.8 -13.5,511.7 -10.3,512.4C-7.0,513.1 -3.8,513.8 -0.6,514.8C2.5,515.8 5.6,516.9 8.7,518.2C11.7,519.6 14.7,521.0 17.6,522.7C20.4,524.3 23.1,526.3 25.8,528.2C28.5,530.1 31.1,532.2 33.7,534.3C36.2,536.4 38.7,538.5 41.1,540.9C43.4,543.2 45.7,545.6 47.8,548.1C49.9,550.7 51.9,553.4 53.7,556.1C55.6,558.9 57.3,561.7 59.0,564.5C60.7,567.4 62.3,570.3 63.9,573.2C65.5,576.1 67.0,579.0 68.4,582.0C69.9,585.0 71.2,588.0 72.5,591.1C73.8,594.1 74.9,597.2 76.1,600.3C77.2,603.4 78.3,606.6 79.4,609.7C80.4,612.8 81.4,616.0 82.4,619.1C83.4,622.3 84.4,625.5 85.3,628.6C86.3,631.8 87.3,635.0 88.2,638.1C89.2,641.3 90.1,644.5 91.1,647.6C92.0,650.8 92.9,654.0 93.9,657.2C94.8,660.3 95.7,663.5 96.6,666.7C97.5,669.9 98.3,673.1 99.2,676.3C100.1,679.4 100.9,682.6 101.7,685.8C102.6,689.0 103.4,692.2 104.2,695.4C105.0,698.6 105.8,701.8 106.6,705.0C107.3,708.2 108.1,711.4 108.8,714.6C109.6,717.8 110.3,721.0 111.0,724.2C111.7,727.4 112.4,730.6 113.1,733.8C113.7,737.0 114.4,740.2 115.0,743.4C115.6,746.6 116.3,749.8 116.9,753.0C117.6,756.2 118.3,759.4 119.0,762.6C119.7,765.8 120.4,769.0 121.1,772.2C121.9,775.4 122.7,778.6 123.4,781.8C124.2,785.0 125.0,788.2 125.8,791.3C126.5,794.5 127.3,797.7 128.0,800.9C128.7,804.1 129.5,807.3 130.1,810.5C130.7,813.8 131.2,817.0 131.7,820.3C132.1,823.6 132.5,826.9 132.9,830.1C133.3,833.4 133.9,838.4 134.1,840.0"/></g><g fill="none" stroke="#8fa2d0" stroke-width="1.9" stroke-opacity="0.65"><path d="M-20.3,520.9C-19.3,521.1 -16.2,521.8 -14.1,522.2C-12.1,522.6 -10.0,523.0 -7.9,523.4C-5.9,523.9 -3.9,524.4 -1.9,525.1C0.1,525.7 2.1,526.4 4.1,527.2C6.0,527.9 8.0,528.7 9.9,529.6C11.8,530.5 13.6,531.5 15.4,532.6C17.2,533.6 19.0,534.8 20.7,536.0C22.4,537.2 24.1,538.4 25.8,539.7C27.5,541.0 29.1,542.3 30.7,543.6C32.4,544.9 34.0,546.3 35.5,547.7C37.1,549.1 38.6,550.5 40.1,552.1C41.5,553.6 42.9,555.1 44.3,556.7C45.6,558.4 46.9,560.0 48.1,561.7C49.3,563.4 50.5,565.2 51.6,566.9C52.8,568.7 53.9,570.5 54.9,572.3C56.0,574.1 57.1,575.9 58.1,577.8C59.1,579.6 60.2,581.4 61.1,583.3C62.1,585.1 63.1,587.0 64.0,588.9C64.9,590.8 65.8,592.7 66.6,594.6C67.5,596.5 68.3,598.5 69.0,600.4C69.8,602.4 70.6,604.3 71.3,606.3C72.0,608.3 72.7,610.2 73.4,612.2C74.1,614.2 74.7,616.2 75.4,618.2C76.0,620.2 76.7,622.2 77.3,624.2C77.9,626.2 78.5,628.2 79.1,630.2C79.7,632.2 80.3,634.2 80.9,636.3C81.5,638.3 82.1,640.3 82.7,642.3C83.3,644.3 83.9,646.3 84.5,648.3C85.1,650.3 85.7,652.4 86.3,654.4C86.9,656.4 87.4,658.4 88.0,660.4C88.6,662.5 89.1,664.5 89.7,666.5C90.2,668.5 90.8,670.6 91.3,672.6C91.9,674.6 92.4,676.6 92.9,678.7C93.4,680.7 94.0,682.7 94.5,684.8C95.0,686.8 95.5,688.9 96.0,690.9C96.5,692.9 96.9,695.0 97.4,697.0C97.9,699.1 98.4,701.1 98.8,703.2C99.3,705.2 99.7,707.3 100.2,709.3C100.6,711.4 101.1,713.4 101.5,715.5C101.9,717.5 102.4,719.6 102.8,721.6C103.2,723.7 103.6,725.7 104.0,727.8C104.4,729.9 104.7,731.9 105.1,734.0C105.5,736.1 105.8,738.1 106.2,740.2C106.5,742.3 106.9,744.3 107.2,746.4C107.6,748.5 107.9,750.6 108.3,752.6C108.6,754.7 109.0,756.8 109.4,758.8C109.7,760.9 110.1,763.0 110.5,765.0C110.9,767.1 111.3,769.1 111.7,771.2C112.1,773.3 112.5,775.3 113.0,777.4C113.4,779.4 113.8,781.5 114.3,783.5C114.7,785.6 115.2,787.6 115.6,789.7C116.0,791.7 116.5,793.8 116.9,795.9C117.3,797.9 117.8,800.0 118.2,802.0C118.6,804.1 119.0,806.1 119.3,808.2C119.7,810.3 120.0,812.3 120.4,814.4C120.7,816.5 121.0,818.6 121.2,820.7C121.5,822.7 121.7,824.8 122.0,826.9C122.2,829.0 122.4,831.1 122.7,833.2C122.9,835.3 123.3,838.4 123.4,839.4"/><path d="M-20.6,529.9C-19.6,530.1 -16.6,530.7 -14.6,531.1C-12.6,531.5 -10.6,531.8 -8.6,532.3C-6.6,532.8 -4.7,533.3 -2.7,533.9C-0.8,534.5 1.1,535.2 3.0,535.9C4.9,536.7 6.8,537.4 8.7,538.3C10.5,539.2 12.3,540.1 14.1,541.2C15.8,542.2 17.5,543.3 19.2,544.5C20.9,545.6 22.5,546.8 24.1,548.1C25.8,549.3 27.4,550.6 28.9,551.8C30.5,553.1 32.1,554.5 33.6,555.8C35.1,557.2 36.6,558.6 38.0,560.1C39.4,561.5 40.7,563.0 42.0,564.6C43.3,566.2 44.6,567.8 45.8,569.4C47.0,571.1 48.1,572.8 49.2,574.5C50.3,576.2 51.4,578.0 52.4,579.7C53.4,581.4 54.5,583.2 55.5,585.0C56.5,586.8 57.5,588.5 58.4,590.3C59.4,592.1 60.3,594.0 61.2,595.8C62.1,597.6 62.9,599.5 63.7,601.3C64.5,603.2 65.3,605.1 66.1,607.0C66.8,608.9 67.6,610.8 68.3,612.7C69.0,614.6 69.7,616.5 70.3,618.4C71.0,620.4 71.6,622.3 72.2,624.2C72.9,626.2 73.5,628.1 74.1,630.0C74.7,632.0 75.3,633.9 75.9,635.9C76.5,637.8 77.1,639.8 77.6,641.7C78.2,643.7 78.8,645.6 79.4,647.6C80.0,649.6 80.5,651.5 81.1,653.5C81.7,655.4 82.2,657.4 82.8,659.3C83.4,661.3 83.9,663.2 84.5,665.2C85.0,667.2 85.6,669.1 86.1,671.1C86.6,673.1 87.2,675.0 87.7,677.0C88.2,679.0 88.7,680.9 89.2,682.9C89.8,684.9 90.3,686.8 90.7,688.8C91.2,690.8 91.7,692.8 92.2,694.7C92.7,696.7 93.2,698.7 93.6,700.7C94.1,702.7 94.5,704.7 95.0,706.6C95.4,708.6 95.9,710.6 96.3,712.6C96.7,714.6 97.2,716.6 97.6,718.6C98.0,720.6 98.4,722.6 98.8,724.6C99.2,726.6 99.6,728.6 100.0,730.6C100.4,732.6 100.7,734.6 101.1,736.6C101.4,738.6 101.8,740.6 102.1,742.6C102.5,744.6 102.8,746.6 103.1,748.6C103.5,750.6 103.8,752.6 104.2,754.6C104.5,756.6 104.9,758.7 105.2,760.7C105.6,762.7 105.9,764.7 106.3,766.7C106.7,768.7 107.1,770.7 107.5,772.7C107.9,774.7 108.3,776.7 108.7,778.6C109.1,780.6 109.5,782.6 110.0,784.6C110.4,786.6 110.8,788.6 111.2,790.6C111.7,792.6 112.1,794.6 112.5,796.6C112.9,798.6 113.3,800.6 113.7,802.6C114.1,804.6 114.5,806.6 114.9,808.6C115.2,810.6 115.6,812.6 115.9,814.6C116.2,816.6 116.5,818.6 116.7,820.6C117.0,822.7 117.2,824.7 117.4,826.7C117.7,828.7 117.9,830.8 118.1,832.8C118.3,834.8 118.7,837.8 118.8,838.8"/><path d="M-20.9,538.8C-19.9,539.0 -17.0,539.6 -15.1,540.0C-13.1,540.4 -11.2,540.7 -9.3,541.1C-7.3,541.6 -5.4,542.1 -3.6,542.7C-1.7,543.3 0.2,544.0 2.0,544.7C3.9,545.4 5.7,546.1 7.5,547.0C9.3,547.8 11.0,548.7 12.7,549.7C14.4,550.7 16.1,551.8 17.7,553.0C19.3,554.1 20.9,555.2 22.5,556.4C24.0,557.6 25.6,558.8 27.1,560.1C28.6,561.4 30.1,562.6 31.6,564.0C33.1,565.3 34.5,566.6 35.9,568.1C37.2,569.5 38.6,571.0 39.8,572.5C41.1,574.0 42.3,575.6 43.4,577.2C44.6,578.8 45.7,580.4 46.8,582.1C47.8,583.7 48.9,585.4 49.9,587.1C50.9,588.8 51.9,590.5 52.8,592.2C53.8,593.9 54.8,595.7 55.7,597.4C56.6,599.2 57.5,600.9 58.4,602.7C59.2,604.5 60.0,606.3 60.8,608.1C61.6,609.9 62.4,611.7 63.1,613.5C63.9,615.4 64.6,617.2 65.3,619.1C65.9,620.9 66.6,622.8 67.2,624.6C67.9,626.5 68.5,628.4 69.1,630.3C69.7,632.1 70.3,634.0 70.9,635.9C71.5,637.8 72.0,639.7 72.6,641.6C73.2,643.4 73.8,645.3 74.3,647.2C74.9,649.1 75.4,651.0 76.0,652.9C76.6,654.8 77.1,656.7 77.7,658.6C78.2,660.5 78.8,662.4 79.3,664.3C79.9,666.2 80.4,668.1 81.0,670.0C81.5,671.9 82.0,673.8 82.5,675.7C83.1,677.6 83.6,679.5 84.1,681.4C84.6,683.3 85.1,685.2 85.6,687.1C86.1,689.0 86.6,690.9 87.0,692.9C87.5,694.8 88.0,696.7 88.4,698.6C88.9,700.5 89.4,702.4 89.8,704.4C90.3,706.3 90.7,708.2 91.1,710.1C91.6,712.1 92.0,714.0 92.4,715.9C92.8,717.8 93.2,719.8 93.7,721.7C94.1,723.6 94.5,725.6 94.8,727.5C95.2,729.4 95.6,731.4 96.0,733.3C96.3,735.3 96.7,737.2 97.0,739.1C97.4,741.1 97.7,743.0 98.0,745.0C98.4,746.9 98.7,748.9 99.0,750.8C99.4,752.8 99.7,754.7 100.0,756.7C100.4,758.6 100.7,760.5 101.0,762.5C101.4,764.4 101.7,766.4 102.1,768.3C102.5,770.2 102.8,772.2 103.2,774.1C103.6,776.1 104.0,778.0 104.4,779.9C104.8,781.9 105.2,783.8 105.7,785.7C106.1,787.6 106.5,789.6 106.9,791.5C107.3,793.4 107.7,795.4 108.1,797.3C108.5,799.2 108.9,801.2 109.3,803.1C109.7,805.0 110.1,807.0 110.4,808.9C110.8,810.9 111.1,812.8 111.4,814.8C111.7,816.7 111.9,818.7 112.2,820.6C112.5,822.6 112.7,824.5 112.9,826.5C113.1,828.5 113.3,830.4 113.6,832.4C113.8,834.3 114.1,837.3 114.3,838.3"/><path d="M-21.2,547.7C-20.2,547.9 -17.4,548.5 -15.5,548.9C-13.7,549.3 -11.8,549.6 -9.9,550.0C-8.1,550.4 -6.2,550.9 -4.4,551.5C-2.6,552.1 -0.8,552.7 1.0,553.4C2.8,554.1 4.6,554.8 6.3,555.6C8.0,556.5 9.7,557.4 11.4,558.3C13.0,559.3 14.6,560.4 16.2,561.4C17.7,562.5 19.3,563.7 20.8,564.8C22.3,566.0 23.8,567.1 25.3,568.4C26.8,569.6 28.2,570.8 29.6,572.1C31.1,573.4 32.5,574.7 33.8,576.1C35.1,577.4 36.4,578.9 37.6,580.3C38.8,581.8 40.0,583.3 41.1,584.9C42.2,586.4 43.3,588.0 44.3,589.6C45.4,591.2 46.4,592.9 47.3,594.5C48.3,596.1 49.3,597.8 50.2,599.5C51.1,601.1 52.1,602.8 53.0,604.5C53.9,606.2 54.7,607.9 55.6,609.6C56.4,611.3 57.2,613.1 58.0,614.8C58.7,616.5 59.5,618.3 60.2,620.1C60.9,621.9 61.6,623.6 62.2,625.4C62.9,627.2 63.5,629.0 64.1,630.8C64.8,632.6 65.4,634.5 66.0,636.3C66.5,638.1 67.1,639.9 67.7,641.7C68.3,643.6 68.8,645.4 69.4,647.2C69.9,649.1 70.5,650.9 71.0,652.7C71.6,654.5 72.1,656.4 72.6,658.2C73.2,660.0 73.7,661.9 74.3,663.7C74.8,665.5 75.3,667.4 75.9,669.2C76.4,671.1 76.9,672.9 77.4,674.7C77.9,676.6 78.5,678.4 79.0,680.3C79.5,682.1 80.0,683.9 80.5,685.8C80.9,687.6 81.4,689.5 81.9,691.3C82.4,693.2 82.9,695.0 83.3,696.9C83.8,698.7 84.2,700.6 84.7,702.5C85.1,704.3 85.6,706.2 86.0,708.0C86.4,709.9 86.9,711.8 87.3,713.6C87.7,715.5 88.1,717.4 88.5,719.2C88.9,721.1 89.3,723.0 89.7,724.8C90.1,726.7 90.5,728.6 90.9,730.4C91.2,732.3 91.6,734.2 92.0,736.1C92.3,738.0 92.7,739.8 93.0,741.7C93.3,743.6 93.7,745.5 94.0,747.4C94.3,749.2 94.6,751.1 94.9,753.0C95.3,754.9 95.6,756.8 95.9,758.7C96.2,760.5 96.5,762.4 96.9,764.3C97.2,766.2 97.6,768.1 97.9,770.0C98.3,771.8 98.6,773.7 99.0,775.6C99.4,777.5 99.8,779.3 100.2,781.2C100.6,783.1 101.0,784.9 101.4,786.8C101.7,788.7 102.2,790.5 102.6,792.4C102.9,794.3 103.3,796.1 103.7,798.0C104.1,799.9 104.5,801.8 104.9,803.6C105.3,805.5 105.6,807.4 106.0,809.3C106.3,811.1 106.6,813.0 106.9,814.9C107.2,816.8 107.4,818.7 107.7,820.6C107.9,822.5 108.1,824.4 108.4,826.3C108.6,828.2 108.8,830.1 109.0,832.0C109.2,833.9 109.6,836.7 109.7,837.7"/><path d="M-21.4,556.7C-20.5,556.8 -17.8,557.4 -16.0,557.8C-14.2,558.1 -12.4,558.4 -10.6,558.9C-8.8,559.3 -7.0,559.8 -5.2,560.3C-3.5,560.9 -1.7,561.5 -0.0,562.2C1.7,562.8 3.4,563.5 5.1,564.3C6.8,565.1 8.4,566.0 10.0,566.9C11.6,567.8 13.1,568.9 14.6,569.9C16.2,571.0 17.7,572.1 19.1,573.2C20.6,574.3 22.1,575.4 23.5,576.6C24.9,577.8 26.3,579.0 27.7,580.2C29.1,581.5 30.4,582.7 31.7,584.1C33.0,585.4 34.2,586.8 35.4,588.2C36.6,589.6 37.7,591.1 38.8,592.6C39.9,594.1 40.9,595.6 41.9,597.2C42.9,598.7 43.8,600.3 44.8,601.9C45.7,603.5 46.7,605.1 47.6,606.7C48.5,608.3 49.4,609.9 50.2,611.5C51.1,613.2 51.9,614.8 52.8,616.5C53.6,618.2 54.3,619.8 55.1,621.5C55.8,623.2 56.5,624.9 57.2,626.6C57.9,628.4 58.6,630.1 59.2,631.8C59.8,633.6 60.5,635.3 61.1,637.0C61.7,638.8 62.2,640.5 62.8,642.3C63.4,644.1 63.9,645.8 64.5,647.6C65.0,649.4 65.6,651.1 66.1,652.9C66.6,654.7 67.2,656.4 67.7,658.2C68.2,660.0 68.7,661.7 69.3,663.5C69.8,665.3 70.3,667.1 70.8,668.8C71.4,670.6 71.9,672.4 72.4,674.2C72.9,675.9 73.4,677.7 73.9,679.5C74.4,681.3 74.9,683.1 75.4,684.8C75.9,686.6 76.4,688.4 76.8,690.2C77.3,692.0 77.8,693.8 78.2,695.6C78.7,697.3 79.1,699.1 79.6,700.9C80.0,702.7 80.5,704.5 80.9,706.3C81.4,708.1 81.8,709.9 82.2,711.7C82.6,713.5 83.0,715.3 83.4,717.1C83.9,718.9 84.2,720.7 84.6,722.5C85.0,724.3 85.4,726.1 85.8,728.0C86.2,729.8 86.5,731.6 86.9,733.4C87.3,735.2 87.6,737.0 88.0,738.8C88.3,740.6 88.6,742.5 89.0,744.3C89.3,746.1 89.6,747.9 89.9,749.7C90.2,751.6 90.5,753.4 90.8,755.2C91.2,757.0 91.5,758.9 91.8,760.7C92.1,762.5 92.4,764.3 92.7,766.1C93.0,768.0 93.4,769.8 93.7,771.6C94.1,773.4 94.4,775.2 94.8,777.0C95.1,778.8 95.5,780.7 95.9,782.5C96.3,784.3 96.7,786.1 97.0,787.9C97.4,789.7 97.8,791.5 98.2,793.3C98.6,795.1 99.0,796.9 99.4,798.7C99.7,800.5 100.1,802.4 100.5,804.2C100.8,806.0 101.2,807.8 101.5,809.6C101.8,811.4 102.1,813.3 102.4,815.1C102.7,816.9 102.9,818.7 103.2,820.6C103.4,822.4 103.6,824.2 103.8,826.1C104.0,827.9 104.2,829.8 104.4,831.6C104.6,833.4 105.0,836.2 105.1,837.1"/><path d="M-21.7,565.6C-20.9,565.8 -18.2,566.3 -16.5,566.7C-14.7,567.0 -13.0,567.3 -11.2,567.7C-9.5,568.1 -7.8,568.6 -6.1,569.1C-4.4,569.6 -2.7,570.3 -1.0,570.9C0.6,571.6 2.3,572.2 3.9,573.0C5.5,573.7 7.1,574.6 8.6,575.5C10.2,576.4 11.7,577.4 13.1,578.4C14.6,579.4 16.0,580.5 17.5,581.6C18.9,582.6 20.3,583.7 21.7,584.9C23.1,586.0 24.4,587.2 25.7,588.4C27.1,589.6 28.4,590.8 29.6,592.1C30.8,593.4 32.0,594.7 33.2,596.1C34.3,597.4 35.4,598.9 36.4,600.3C37.5,601.7 38.5,603.2 39.4,604.7C40.4,606.2 41.3,607.8 42.3,609.3C43.2,610.8 44.1,612.4 44.9,613.9C45.8,615.5 46.7,617.0 47.5,618.6C48.4,620.2 49.2,621.8 49.9,623.4C50.7,625.0 51.5,626.6 52.2,628.3C52.9,629.9 53.6,631.5 54.2,633.2C54.9,634.9 55.6,636.5 56.2,638.2C56.8,639.9 57.4,641.6 58.0,643.2C58.6,644.9 59.1,646.6 59.7,648.3C60.2,650.0 60.7,651.7 61.3,653.4C61.8,655.1 62.3,656.9 62.8,658.6C63.4,660.3 63.9,662.0 64.4,663.7C64.9,665.4 65.4,667.1 65.9,668.8C66.4,670.5 66.9,672.3 67.4,674.0C67.9,675.7 68.4,677.4 68.9,679.1C69.4,680.8 69.9,682.5 70.4,684.3C70.9,686.0 71.3,687.7 71.8,689.4C72.3,691.1 72.7,692.9 73.2,694.6C73.7,696.3 74.1,698.0 74.6,699.8C75.0,701.5 75.4,703.2 75.9,705.0C76.3,706.7 76.7,708.4 77.2,710.2C77.6,711.9 78.0,713.6 78.4,715.4C78.8,717.1 79.2,718.9 79.6,720.6C80.0,722.3 80.4,724.1 80.8,725.8C81.1,727.6 81.5,729.3 81.9,731.1C82.2,732.8 82.6,734.6 82.9,736.3C83.3,738.1 83.6,739.8 84.0,741.6C84.3,743.3 84.6,745.1 84.9,746.8C85.2,748.6 85.5,750.4 85.8,752.1C86.1,753.9 86.4,755.6 86.7,757.4C87.0,759.2 87.3,760.9 87.6,762.7C87.9,764.4 88.2,766.2 88.6,768.0C88.9,769.7 89.2,771.5 89.5,773.2C89.9,775.0 90.2,776.7 90.5,778.5C90.9,780.2 91.3,782.0 91.6,783.7C92.0,785.5 92.4,787.2 92.7,789.0C93.1,790.7 93.5,792.5 93.9,794.2C94.2,796.0 94.6,797.7 95.0,799.5C95.3,801.2 95.7,803.0 96.0,804.7C96.4,806.5 96.7,808.2 97.0,810.0C97.3,811.7 97.6,813.5 97.9,815.3C98.2,817.0 98.4,818.8 98.6,820.6C98.9,822.3 99.1,824.1 99.3,825.9C99.5,827.7 99.7,829.4 99.9,831.2C100.1,833.0 100.4,835.6 100.5,836.5"/><path d="M-22.3,583.5C-21.5,583.6 -19.1,584.1 -17.4,584.5C-15.8,584.8 -14.2,585.1 -12.6,585.4C-10.9,585.8 -9.3,586.2 -7.8,586.7C-6.2,587.2 -4.6,587.8 -3.1,588.4C-1.5,589.0 0.0,589.6 1.5,590.3C3.0,591.0 4.5,591.8 5.9,592.7C7.4,593.5 8.7,594.4 10.1,595.4C11.5,596.3 12.8,597.3 14.1,598.3C15.5,599.3 16.8,600.3 18.0,601.4C19.3,602.4 20.6,603.5 21.8,604.6C23.1,605.7 24.3,606.9 25.4,608.1C26.6,609.3 27.7,610.5 28.7,611.8C29.8,613.1 30.8,614.4 31.8,615.7C32.7,617.1 33.7,618.5 34.6,619.8C35.5,621.2 36.3,622.7 37.2,624.1C38.0,625.5 38.9,627.0 39.7,628.4C40.5,629.8 41.3,631.3 42.1,632.8C42.9,634.2 43.6,635.7 44.3,637.2C45.1,638.7 45.7,640.2 46.4,641.7C47.1,643.2 47.7,644.8 48.3,646.3C49.0,647.9 49.5,649.4 50.1,651.0C50.7,652.5 51.3,654.1 51.8,655.7C52.3,657.2 52.8,658.8 53.4,660.4C53.9,662.0 54.4,663.6 54.9,665.1C55.4,666.7 55.8,668.3 56.3,669.9C56.8,671.5 57.3,673.1 57.8,674.7C58.2,676.3 58.7,677.9 59.2,679.4C59.6,681.0 60.1,682.6 60.6,684.2C61.0,685.8 61.5,687.4 62.0,689.0C62.4,690.6 62.9,692.2 63.3,693.8C63.8,695.4 64.2,697.0 64.7,698.6C65.1,700.2 65.5,701.8 66.0,703.4C66.4,705.0 66.8,706.6 67.2,708.2C67.6,709.8 68.0,711.4 68.4,713.0C68.8,714.7 69.2,716.3 69.6,717.9C70.0,719.5 70.4,721.1 70.8,722.7C71.2,724.3 71.5,726.0 71.9,727.6C72.3,729.2 72.6,730.8 73.0,732.4C73.3,734.1 73.7,735.7 74.0,737.3C74.4,738.9 74.7,740.6 75.0,742.2C75.3,743.8 75.7,745.5 76.0,747.1C76.3,748.7 76.6,750.4 76.9,752.0C77.1,753.6 77.4,755.3 77.7,756.9C78.0,758.5 78.3,760.2 78.5,761.8C78.8,763.4 79.1,765.1 79.4,766.7C79.7,768.3 79.9,770.0 80.2,771.6C80.5,773.3 80.8,774.9 81.1,776.5C81.4,778.1 81.8,779.8 82.1,781.4C82.4,783.0 82.7,784.7 83.1,786.3C83.4,787.9 83.8,789.5 84.1,791.2C84.5,792.8 84.8,794.4 85.2,796.0C85.5,797.7 85.9,799.3 86.2,800.9C86.5,802.5 86.9,804.2 87.2,805.8C87.5,807.4 87.8,809.0 88.1,810.7C88.4,812.3 88.7,813.9 88.9,815.6C89.2,817.2 89.4,818.9 89.6,820.5C89.8,822.2 90.0,823.8 90.2,825.5C90.4,827.1 90.6,828.8 90.8,830.4C90.9,832.1 91.2,834.5 91.3,835.4"/><path d="M-22.9,601.3C-22.1,601.5 -19.9,601.9 -18.4,602.2C-16.9,602.5 -15.4,602.8 -13.9,603.1C-12.4,603.5 -10.9,603.9 -9.4,604.3C-8.0,604.8 -6.5,605.3 -5.1,605.9C-3.7,606.4 -2.2,607.0 -0.8,607.7C0.5,608.3 1.9,609.0 3.2,609.8C4.5,610.6 5.8,611.5 7.1,612.3C8.3,613.2 9.6,614.1 10.8,615.0C12.0,616.0 13.2,616.9 14.4,617.9C15.6,618.9 16.8,619.9 17.9,620.9C19.0,621.9 20.2,623.0 21.2,624.1C22.3,625.2 23.3,626.3 24.3,627.5C25.3,628.7 26.2,629.9 27.1,631.2C28.0,632.4 28.9,633.7 29.7,635.0C30.5,636.3 31.3,637.6 32.1,638.9C32.9,640.2 33.7,641.5 34.4,642.9C35.2,644.2 35.9,645.5 36.6,646.9C37.4,648.3 38.1,649.6 38.7,651.0C39.4,652.4 40.0,653.8 40.6,655.2C41.3,656.6 41.8,658.0 42.4,659.4C43.0,660.9 43.5,662.3 44.1,663.7C44.6,665.2 45.1,666.6 45.6,668.1C46.1,669.5 46.6,671.0 47.1,672.4C47.5,673.9 48.0,675.4 48.5,676.8C48.9,678.3 49.4,679.8 49.8,681.2C50.2,682.7 50.7,684.2 51.1,685.6C51.6,687.1 52.0,688.6 52.4,690.1C52.9,691.5 53.3,693.0 53.7,694.5C54.2,695.9 54.6,697.4 55.0,698.9C55.4,700.4 55.9,701.8 56.3,703.3C56.7,704.8 57.1,706.3 57.5,707.8C57.9,709.2 58.3,710.7 58.7,712.2C59.1,713.7 59.5,715.2 59.9,716.7C60.3,718.1 60.6,719.6 61.0,721.1C61.4,722.6 61.7,724.1 62.1,725.6C62.5,727.1 62.8,728.6 63.2,730.1C63.5,731.6 63.9,733.1 64.2,734.6C64.5,736.1 64.9,737.6 65.2,739.1C65.5,740.6 65.8,742.1 66.2,743.6C66.5,745.1 66.8,746.6 67.1,748.1C67.4,749.6 67.7,751.1 68.0,752.6C68.2,754.1 68.5,755.6 68.8,757.1C69.1,758.6 69.3,760.1 69.6,761.7C69.8,763.2 70.1,764.7 70.3,766.2C70.6,767.7 70.9,769.2 71.1,770.7C71.4,772.2 71.6,773.8 71.9,775.3C72.2,776.8 72.5,778.3 72.7,779.8C73.0,781.3 73.3,782.8 73.6,784.3C73.9,785.8 74.2,787.3 74.5,788.8C74.9,790.3 75.2,791.8 75.5,793.3C75.8,794.8 76.1,796.3 76.5,797.8C76.8,799.3 77.1,800.8 77.4,802.3C77.7,803.8 78.0,805.3 78.3,806.9C78.6,808.4 78.9,809.9 79.2,811.4C79.5,812.9 79.7,814.4 79.9,815.9C80.2,817.4 80.4,819.0 80.6,820.5C80.8,822.0 81.0,823.5 81.1,825.1C81.3,826.6 81.5,828.1 81.6,829.6C81.8,831.2 82.1,833.4 82.2,834.2"/><path d="M-23.5,619.2C-22.8,619.3 -20.7,619.7 -19.3,620.0C-18.0,620.3 -16.6,620.5 -15.2,620.9C-13.8,621.2 -12.5,621.5 -11.1,622.0C-9.8,622.4 -8.4,622.9 -7.1,623.4C-5.8,623.9 -4.5,624.4 -3.2,625.0C-2.0,625.6 -0.7,626.3 0.5,627.0C1.7,627.7 2.9,628.5 4.0,629.3C5.2,630.1 6.3,630.9 7.5,631.8C8.6,632.6 9.7,633.5 10.8,634.4C11.9,635.3 13.0,636.2 14.0,637.2C15.0,638.1 16.1,639.1 17.0,640.1C18.0,641.1 19.0,642.1 19.9,643.2C20.8,644.3 21.6,645.4 22.4,646.6C23.3,647.7 24.1,648.9 24.8,650.1C25.6,651.3 26.3,652.5 27.0,653.7C27.8,654.9 28.5,656.1 29.2,657.3C29.8,658.6 30.5,659.8 31.2,661.0C31.9,662.3 32.5,663.5 33.1,664.8C33.7,666.1 34.3,667.4 34.9,668.7C35.4,669.9 36.0,671.2 36.5,672.6C37.0,673.9 37.5,675.2 38.0,676.5C38.5,677.8 39.0,679.1 39.4,680.5C39.9,681.8 40.3,683.2 40.8,684.5C41.2,685.8 41.6,687.2 42.0,688.5C42.5,689.9 42.9,691.2 43.3,692.6C43.7,693.9 44.1,695.3 44.5,696.6C44.9,698.0 45.3,699.3 45.7,700.7C46.1,702.0 46.5,703.4 46.9,704.7C47.3,706.1 47.7,707.4 48.1,708.8C48.5,710.1 48.9,711.5 49.2,712.9C49.6,714.2 50.0,715.6 50.4,716.9C50.7,718.3 51.1,719.7 51.5,721.0C51.8,722.4 52.2,723.7 52.5,725.1C52.9,726.5 53.2,727.8 53.6,729.2C53.9,730.6 54.3,731.9 54.6,733.3C54.9,734.7 55.2,736.0 55.6,737.4C55.9,738.8 56.2,740.2 56.5,741.5C56.8,742.9 57.1,744.3 57.4,745.7C57.7,747.0 58.0,748.4 58.3,749.8C58.6,751.2 58.9,752.6 59.2,753.9C59.4,755.3 59.7,756.7 60.0,758.1C60.2,759.5 60.5,760.9 60.7,762.3C61.0,763.6 61.2,765.0 61.4,766.4C61.7,767.8 61.9,769.2 62.1,770.6C62.4,772.0 62.6,773.4 62.9,774.8C63.1,776.1 63.3,777.5 63.6,778.9C63.8,780.3 64.1,781.7 64.3,783.1C64.6,784.5 64.9,785.9 65.1,787.2C65.4,788.6 65.7,790.0 66.0,791.4C66.3,792.8 66.6,794.1 66.9,795.5C67.2,796.9 67.5,798.3 67.8,799.6C68.1,801.0 68.4,802.4 68.6,803.8C68.9,805.2 69.2,806.5 69.5,807.9C69.8,809.3 70.0,810.7 70.3,812.1C70.5,813.5 70.7,814.9 71.0,816.3C71.2,817.6 71.4,819.0 71.5,820.4C71.7,821.8 71.9,823.2 72.0,824.6C72.2,826.0 72.4,827.4 72.5,828.8C72.7,830.2 72.9,832.3 73.0,833.0"/><path d="M-24.1,637.0C-23.4,637.2 -21.5,637.6 -20.3,637.8C-19.0,638.1 -17.8,638.3 -16.5,638.6C-15.3,638.9 -14.0,639.2 -12.8,639.6C-11.6,640.0 -10.4,640.4 -9.2,640.9C-8.0,641.3 -6.8,641.8 -5.6,642.4C-4.5,642.9 -3.3,643.5 -2.2,644.2C-1.1,644.8 -0.0,645.5 1.0,646.3C2.1,647.0 3.1,647.8 4.1,648.5C5.2,649.3 6.2,650.1 7.2,650.9C8.2,651.7 9.1,652.6 10.1,653.4C11.0,654.3 12.0,655.2 12.9,656.1C13.8,657.0 14.6,658.0 15.4,659.0C16.3,659.9 17.0,661.0 17.8,662.0C18.5,663.0 19.2,664.1 19.9,665.2C20.6,666.3 21.3,667.4 22.0,668.5C22.6,669.6 23.3,670.7 23.9,671.8C24.5,672.9 25.1,674.0 25.7,675.2C26.3,676.3 26.9,677.5 27.5,678.6C28.0,679.8 28.6,680.9 29.1,682.1C29.6,683.3 30.1,684.5 30.6,685.7C31.1,686.9 31.5,688.1 32.0,689.3C32.4,690.5 32.8,691.7 33.3,692.9C33.7,694.1 34.1,695.3 34.5,696.6C34.9,697.8 35.3,699.0 35.6,700.2C36.0,701.4 36.4,702.7 36.8,703.9C37.1,705.1 37.5,706.4 37.9,707.6C38.2,708.8 38.6,710.1 39.0,711.3C39.3,712.5 39.7,713.8 40.1,715.0C40.4,716.2 40.8,717.4 41.1,718.7C41.5,719.9 41.8,721.2 42.2,722.4C42.5,723.6 42.9,724.9 43.2,726.1C43.6,727.3 43.9,728.6 44.2,729.8C44.5,731.1 44.9,732.3 45.2,733.5C45.5,734.8 45.8,736.0 46.1,737.3C46.5,738.5 46.8,739.8 47.1,741.0C47.4,742.3 47.7,743.5 48.0,744.8C48.2,746.0 48.5,747.3 48.8,748.5C49.1,749.8 49.4,751.0 49.6,752.3C49.9,753.5 50.2,754.8 50.4,756.1C50.7,757.3 51.0,758.6 51.2,759.8C51.5,761.1 51.7,762.3 52.0,763.6C52.2,764.9 52.4,766.1 52.6,767.4C52.9,768.7 53.1,769.9 53.3,771.2C53.5,772.5 53.7,773.7 54.0,775.0C54.2,776.3 54.4,777.5 54.6,778.8C54.8,780.1 55.0,781.3 55.3,782.6C55.5,783.8 55.7,785.1 56.0,786.4C56.2,787.6 56.4,788.9 56.7,790.2C56.9,791.4 57.2,792.7 57.5,793.9C57.7,795.2 58.0,796.4 58.3,797.7C58.5,798.9 58.8,800.2 59.1,801.5C59.3,802.7 59.6,804.0 59.9,805.2C60.1,806.5 60.4,807.7 60.6,809.0C60.9,810.3 61.1,811.5 61.4,812.8C61.6,814.1 61.8,815.3 62.0,816.6C62.2,817.9 62.3,819.1 62.5,820.4C62.7,821.7 62.8,823.0 63.0,824.2C63.1,825.5 63.2,826.8 63.4,828.1C63.5,829.3 63.8,831.2 63.9,831.9"/><path d="M-24.6,654.9C-24.1,655.0 -22.4,655.4 -21.2,655.6C-20.1,655.8 -19.0,656.0 -17.8,656.3C-16.7,656.6 -15.6,656.9 -14.5,657.2C-13.4,657.5 -12.3,657.9 -11.2,658.4C-10.1,658.8 -9.0,659.2 -8.0,659.7C-6.9,660.2 -5.9,660.7 -4.9,661.3C-3.9,661.9 -3.0,662.6 -2.0,663.2C-1.1,663.9 -0.1,664.6 0.8,665.3C1.7,666.0 2.6,666.7 3.5,667.4C4.4,668.2 5.3,668.9 6.2,669.7C7.0,670.5 7.9,671.3 8.7,672.1C9.5,672.9 10.3,673.8 11.0,674.7C11.7,675.6 12.4,676.5 13.1,677.4C13.8,678.4 14.4,679.3 15.1,680.3C15.7,681.3 16.3,682.3 16.9,683.3C17.5,684.3 18.1,685.3 18.6,686.3C19.2,687.3 19.8,688.3 20.3,689.3C20.8,690.3 21.4,691.4 21.9,692.4C22.4,693.5 22.9,694.5 23.3,695.6C23.8,696.6 24.2,697.7 24.7,698.8C25.1,699.9 25.5,700.9 25.9,702.0C26.3,703.1 26.7,704.2 27.1,705.3C27.5,706.4 27.8,707.5 28.2,708.6C28.5,709.7 28.9,710.8 29.2,711.9C29.6,713.0 29.9,714.1 30.2,715.2C30.6,716.4 30.9,717.5 31.2,718.6C31.6,719.7 31.9,720.8 32.2,721.9C32.6,723.0 32.9,724.1 33.2,725.2C33.5,726.3 33.9,727.5 34.2,728.6C34.5,729.7 34.8,730.8 35.1,731.9C35.5,733.0 35.8,734.2 36.1,735.3C36.4,736.4 36.7,737.5 37.0,738.6C37.3,739.7 37.6,740.9 37.9,742.0C38.1,743.1 38.4,744.2 38.7,745.4C39.0,746.5 39.3,747.6 39.5,748.7C39.8,749.9 40.1,751.0 40.3,752.1C40.6,753.2 40.9,754.4 41.1,755.5C41.4,756.6 41.6,757.8 41.9,758.9C42.1,760.0 42.4,761.2 42.6,762.3C42.8,763.4 43.1,764.6 43.3,765.7C43.5,766.8 43.7,768.0 44.0,769.1C44.2,770.3 44.4,771.4 44.6,772.5C44.8,773.7 45.0,774.8 45.2,776.0C45.4,777.1 45.6,778.2 45.8,779.4C45.9,780.5 46.1,781.7 46.3,782.8C46.5,784.0 46.7,785.1 46.9,786.2C47.1,787.4 47.3,788.5 47.6,789.7C47.8,790.8 48.0,791.9 48.2,793.1C48.4,794.2 48.7,795.3 48.9,796.5C49.2,797.6 49.4,798.7 49.6,799.9C49.9,801.0 50.1,802.1 50.4,803.3C50.6,804.4 50.9,805.5 51.1,806.7C51.3,807.8 51.6,808.9 51.8,810.1C52.0,811.2 52.2,812.4 52.4,813.5C52.6,814.6 52.8,815.8 53.0,816.9C53.2,818.1 53.3,819.2 53.5,820.4C53.6,821.5 53.8,822.7 53.9,823.8C54.0,825.0 54.1,826.1 54.3,827.3C54.4,828.4 54.6,830.1 54.7,830.7"/><path d="M-25.2,672.8C-24.7,672.9 -23.2,673.2 -22.2,673.4C-21.2,673.6 -20.1,673.8 -19.1,674.0C-18.1,674.2 -17.1,674.5 -16.2,674.8C-15.2,675.1 -14.2,675.5 -13.2,675.9C-12.3,676.2 -11.3,676.6 -10.4,677.1C-9.4,677.5 -8.5,678.0 -7.6,678.5C-6.7,679.0 -5.9,679.6 -5.0,680.2C-4.2,680.8 -3.4,681.4 -2.5,682.0C-1.7,682.6 -0.9,683.3 -0.1,683.9C0.7,684.6 1.5,685.3 2.3,686.0C3.0,686.6 3.8,687.4 4.5,688.1C5.2,688.8 5.9,689.6 6.6,690.4C7.2,691.2 7.8,692.0 8.5,692.9C9.1,693.7 9.6,694.6 10.2,695.4C10.7,696.3 11.3,697.2 11.8,698.1C12.3,699.0 12.9,699.8 13.4,700.7C13.9,701.6 14.4,702.5 14.9,703.5C15.3,704.4 15.8,705.3 16.3,706.2C16.7,707.2 17.1,708.1 17.6,709.0C18.0,710.0 18.4,710.9 18.8,711.9C19.1,712.9 19.5,713.8 19.9,714.8C20.2,715.8 20.6,716.7 20.9,717.7C21.2,718.7 21.6,719.7 21.9,720.7C22.2,721.6 22.5,722.6 22.8,723.6C23.1,724.6 23.4,725.6 23.7,726.6C24.0,727.6 24.3,728.6 24.6,729.5C24.9,730.5 25.2,731.5 25.5,732.5C25.8,733.5 26.1,734.5 26.4,735.5C26.7,736.5 27.0,737.5 27.2,738.5C27.5,739.5 27.8,740.5 28.1,741.4C28.4,742.4 28.6,743.4 28.9,744.4C29.2,745.4 29.5,746.4 29.7,747.4C30.0,748.4 30.3,749.4 30.5,750.4C30.8,751.4 31.0,752.4 31.3,753.4C31.5,754.4 31.8,755.4 32.0,756.4C32.3,757.4 32.5,758.5 32.7,759.5C33.0,760.5 33.2,761.5 33.4,762.5C33.6,763.5 33.9,764.5 34.1,765.5C34.3,766.5 34.5,767.5 34.7,768.5C34.9,769.6 35.2,770.6 35.4,771.6C35.6,772.6 35.8,773.6 36.0,774.6C36.1,775.6 36.3,776.7 36.5,777.7C36.7,778.7 36.9,779.7 37.0,780.7C37.2,781.7 37.4,782.8 37.6,783.8C37.7,784.8 37.9,785.8 38.1,786.8C38.3,787.9 38.4,788.9 38.6,789.9C38.8,790.9 39.0,791.9 39.2,792.9C39.4,794.0 39.6,795.0 39.8,796.0C40.0,797.0 40.2,798.0 40.4,799.0C40.6,800.0 40.8,801.0 41.0,802.0C41.2,803.1 41.5,804.1 41.7,805.1C41.9,806.1 42.1,807.1 42.3,808.1C42.5,809.1 42.7,810.1 42.9,811.1C43.1,812.2 43.3,813.2 43.5,814.2C43.7,815.2 43.9,816.2 44.0,817.3C44.2,818.3 44.3,819.3 44.4,820.3C44.6,821.3 44.7,822.4 44.8,823.4C44.9,824.4 45.0,825.5 45.2,826.5C45.3,827.5 45.5,829.0 45.5,829.6"/><path d="M-25.8,690.6C-25.4,690.7 -24.0,691.0 -23.1,691.2C-22.2,691.4 -21.3,691.5 -20.5,691.7C-19.6,691.9 -18.7,692.2 -17.8,692.4C-17.0,692.7 -16.1,693.0 -15.3,693.3C-14.4,693.7 -13.6,694.0 -12.8,694.4C-11.9,694.8 -11.1,695.2 -10.4,695.7C-9.6,696.1 -8.8,696.6 -8.1,697.2C-7.3,697.7 -6.6,698.2 -5.9,698.8C-5.1,699.3 -4.4,699.9 -3.7,700.4C-3.0,701.0 -2.3,701.6 -1.7,702.2C-1.0,702.8 -0.3,703.5 0.3,704.1C0.9,704.8 1.5,705.4 2.1,706.1C2.7,706.8 3.3,707.6 3.8,708.3C4.3,709.0 4.8,709.8 5.3,710.5C5.8,711.3 6.3,712.1 6.7,712.9C7.2,713.6 7.7,714.4 8.1,715.2C8.6,716.0 9.0,716.8 9.4,717.6C9.8,718.4 10.3,719.2 10.6,720.0C11.0,720.8 11.4,721.7 11.8,722.5C12.2,723.3 12.5,724.2 12.8,725.0C13.2,725.9 13.5,726.7 13.8,727.6C14.1,728.4 14.4,729.3 14.7,730.1C15.0,731.0 15.3,731.8 15.6,732.7C15.9,733.6 16.1,734.4 16.4,735.3C16.7,736.2 16.9,737.0 17.2,737.9C17.5,738.8 17.7,739.7 18.0,740.5C18.2,741.4 18.5,742.3 18.8,743.1C19.0,744.0 19.3,744.9 19.5,745.7C19.8,746.6 20.0,747.5 20.3,748.4C20.5,749.2 20.8,750.1 21.0,751.0C21.3,751.9 21.5,752.7 21.8,753.6C22.0,754.5 22.2,755.4 22.5,756.2C22.7,757.1 22.9,758.0 23.2,758.9C23.4,759.7 23.6,760.6 23.8,761.5C24.1,762.4 24.3,763.3 24.5,764.2C24.7,765.0 24.9,765.9 25.1,766.8C25.3,767.7 25.5,768.6 25.7,769.5C25.9,770.3 26.1,771.2 26.3,772.1C26.5,773.0 26.7,773.9 26.9,774.8C27.1,775.7 27.3,776.6 27.4,777.5C27.6,778.3 27.8,779.2 27.9,780.1C28.1,781.0 28.3,781.9 28.4,782.8C28.6,783.7 28.8,784.6 28.9,785.5C29.1,786.4 29.2,787.3 29.4,788.2C29.5,789.1 29.7,790.0 29.8,790.9C30.0,791.8 30.1,792.6 30.3,793.5C30.4,794.4 30.6,795.3 30.8,796.2C30.9,797.1 31.1,798.0 31.3,798.9C31.5,799.8 31.7,800.7 31.8,801.6C32.0,802.5 32.2,803.3 32.4,804.2C32.6,805.1 32.8,806.0 33.0,806.9C33.2,807.8 33.4,808.7 33.5,809.6C33.7,810.4 33.9,811.3 34.1,812.2C34.3,813.1 34.4,814.0 34.6,814.9C34.8,815.8 34.9,816.7 35.0,817.6C35.2,818.5 35.3,819.4 35.4,820.3C35.5,821.2 35.6,822.1 35.7,823.0C35.8,823.9 35.9,824.8 36.0,825.7C36.1,826.6 36.3,827.9 36.4,828.4"/><path d="M-26.4,708.5C-26.0,708.6 -24.8,708.8 -24.1,709.0C-23.3,709.1 -22.5,709.3 -21.8,709.4C-21.0,709.6 -20.3,709.8 -19.5,710.0C-18.8,710.3 -18.0,710.6 -17.3,710.8C-16.6,711.1 -15.8,711.4 -15.1,711.7C-14.4,712.1 -13.7,712.4 -13.1,712.8C-12.4,713.2 -11.7,713.7 -11.1,714.1C-10.5,714.6 -9.8,715.0 -9.2,715.5C-8.6,716.0 -8.0,716.5 -7.4,717.0C-6.7,717.4 -6.2,718.0 -5.6,718.5C-5.0,719.0 -4.4,719.5 -3.9,720.1C-3.3,720.7 -2.8,721.3 -2.3,721.9C-1.8,722.5 -1.3,723.1 -0.9,723.7C-0.4,724.3 0.0,725.0 0.4,725.7C0.9,726.3 1.3,727.0 1.7,727.7C2.1,728.3 2.5,729.0 2.8,729.7C3.2,730.4 3.6,731.1 4.0,731.7C4.3,732.4 4.7,733.1 5.0,733.8C5.4,734.5 5.7,735.3 6.0,736.0C6.3,736.7 6.6,737.4 6.9,738.1C7.2,738.9 7.5,739.6 7.8,740.3C8.0,741.1 8.3,741.8 8.6,742.5C8.8,743.3 9.1,744.0 9.3,744.8C9.5,745.5 9.8,746.3 10.0,747.0C10.2,747.8 10.5,748.5 10.7,749.2C10.9,750.0 11.1,750.7 11.4,751.5C11.6,752.2 11.8,753.0 12.0,753.7C12.3,754.5 12.5,755.2 12.7,756.0C12.9,756.8 13.1,757.5 13.4,758.3C13.6,759.0 13.8,759.8 14.0,760.5C14.2,761.3 14.4,762.0 14.6,762.8C14.8,763.5 15.0,764.3 15.2,765.0C15.4,765.8 15.6,766.6 15.8,767.3C16.0,768.1 16.2,768.8 16.4,769.6C16.6,770.3 16.8,771.1 17.0,771.9C17.1,772.6 17.3,773.4 17.5,774.2C17.7,774.9 17.9,775.7 18.0,776.4C18.2,777.2 18.4,778.0 18.5,778.7C18.7,779.5 18.9,780.3 19.0,781.0C19.2,781.8 19.3,782.6 19.5,783.3C19.7,784.1 19.8,784.9 19.9,785.6C20.1,786.4 20.2,787.2 20.4,787.9C20.5,788.7 20.6,789.5 20.8,790.3C20.9,791.0 21.0,791.8 21.2,792.6C21.3,793.3 21.4,794.1 21.6,794.9C21.7,795.7 21.8,796.4 22.0,797.2C22.1,798.0 22.2,798.7 22.4,799.5C22.5,800.3 22.7,801.0 22.8,801.8C23.0,802.6 23.1,803.3 23.3,804.1C23.5,804.9 23.6,805.6 23.8,806.4C24.0,807.2 24.1,807.9 24.3,808.7C24.4,809.5 24.6,810.2 24.8,811.0C24.9,811.8 25.1,812.5 25.2,813.3C25.4,814.1 25.5,814.8 25.7,815.6C25.8,816.4 25.9,817.1 26.1,817.9C26.2,818.7 26.3,819.5 26.4,820.2C26.5,821.0 26.6,821.8 26.7,822.6C26.7,823.4 26.8,824.1 26.9,824.9C27.0,825.7 27.1,826.9 27.2,827.2"/><path d="M-27.0,726.4C-26.6,726.4 -25.7,726.6 -25.0,726.8C-24.4,726.9 -23.7,727.0 -23.1,727.2C-22.5,727.3 -21.8,727.5 -21.2,727.7C-20.6,727.9 -19.9,728.1 -19.3,728.3C-18.7,728.6 -18.1,728.8 -17.5,729.1C-16.9,729.4 -16.3,729.7 -15.8,730.0C-15.2,730.3 -14.7,730.7 -14.1,731.1C-13.6,731.5 -13.1,731.8 -12.5,732.2C-12.0,732.6 -11.5,733.0 -11.0,733.5C-10.5,733.9 -10.0,734.3 -9.5,734.7C-9.0,735.2 -8.5,735.6 -8.1,736.1C-7.6,736.6 -7.2,737.1 -6.7,737.6C-6.3,738.1 -5.9,738.6 -5.5,739.1C-5.2,739.7 -4.8,740.2 -4.4,740.8C-4.1,741.3 -3.7,741.9 -3.4,742.5C-3.1,743.0 -2.7,743.6 -2.4,744.2C-2.1,744.7 -1.8,745.3 -1.5,745.9C-1.2,746.5 -0.9,747.1 -0.6,747.6C-0.3,748.2 -0.0,748.8 0.2,749.4C0.5,750.0 0.8,750.6 1.0,751.3C1.3,751.9 1.5,752.5 1.7,753.1C1.9,753.7 2.2,754.3 2.4,754.9C2.6,755.6 2.8,756.2 3.0,756.8C3.2,757.4 3.4,758.1 3.6,758.7C3.8,759.3 4.0,760.0 4.2,760.6C4.4,761.2 4.5,761.8 4.7,762.5C4.9,763.1 5.1,763.7 5.3,764.4C5.5,765.0 5.7,765.6 5.9,766.3C6.0,766.9 6.2,767.5 6.4,768.1C6.6,768.8 6.8,769.4 6.9,770.0C7.1,770.7 7.3,771.3 7.5,771.9C7.6,772.6 7.8,773.2 8.0,773.8C8.2,774.5 8.3,775.1 8.5,775.8C8.6,776.4 8.8,777.0 9.0,777.7C9.1,778.3 9.3,778.9 9.4,779.6C9.6,780.2 9.7,780.9 9.9,781.5C10.0,782.1 10.2,782.8 10.3,783.4C10.5,784.1 10.6,784.7 10.8,785.3C10.9,786.0 11.0,786.6 11.2,787.3C11.3,787.9 11.4,788.6 11.6,789.2C11.7,789.8 11.8,790.5 11.9,791.1C12.1,791.8 12.2,792.4 12.3,793.1C12.4,793.7 12.5,794.4 12.6,795.0C12.7,795.7 12.9,796.3 13.0,797.0C13.1,797.6 13.2,798.3 13.3,798.9C13.4,799.6 13.5,800.2 13.6,800.8C13.7,801.5 13.9,802.1 14.0,802.8C14.1,803.4 14.2,804.1 14.4,804.7C14.5,805.4 14.6,806.0 14.8,806.7C14.9,807.3 15.0,807.9 15.2,808.6C15.3,809.2 15.4,809.9 15.6,810.5C15.7,811.2 15.9,811.8 16.0,812.4C16.1,813.1 16.3,813.7 16.4,814.4C16.5,815.0 16.6,815.7 16.8,816.3C16.9,817.0 17.0,817.6 17.1,818.3C17.2,818.9 17.3,819.6 17.3,820.2C17.4,820.9 17.5,821.5 17.6,822.2C17.7,822.8 17.7,823.5 17.8,824.1C17.9,824.8 18.0,825.8 18.0,826.1"/><path d="M-27.5,744.2C-27.3,744.3 -26.5,744.4 -26.0,744.6C-25.5,744.7 -24.9,744.7 -24.4,744.9C-23.9,745.0 -23.4,745.1 -22.9,745.3C-22.4,745.4 -21.9,745.6 -21.4,745.8C-20.9,746.0 -20.4,746.2 -19.9,746.4C-19.4,746.7 -18.9,746.9 -18.5,747.2C-18.0,747.4 -17.6,747.7 -17.2,748.0C-16.7,748.3 -16.3,748.7 -15.9,749.0C-15.4,749.3 -15.0,749.6 -14.6,750.0C-14.2,750.3 -13.8,750.7 -13.4,751.0C-13.0,751.4 -12.6,751.7 -12.2,752.1C-11.9,752.5 -11.5,752.9 -11.2,753.3C-10.8,753.7 -10.5,754.1 -10.2,754.6C-9.9,755.0 -9.6,755.4 -9.3,755.9C-9.0,756.3 -8.8,756.8 -8.5,757.2C-8.2,757.7 -7.9,758.2 -7.7,758.6C-7.4,759.1 -7.2,759.6 -6.9,760.0C-6.7,760.5 -6.4,761.0 -6.2,761.4C-6.0,761.9 -5.7,762.4 -5.5,762.9C-5.3,763.4 -5.1,763.9 -4.9,764.4C-4.7,764.9 -4.5,765.4 -4.3,765.9C-4.1,766.4 -4.0,766.9 -3.8,767.4C-3.6,767.9 -3.5,768.4 -3.3,768.9C-3.1,769.4 -3.0,769.9 -2.8,770.4C-2.7,770.9 -2.5,771.4 -2.3,771.9C-2.2,772.4 -2.0,772.9 -1.9,773.4C-1.7,774.0 -1.6,774.5 -1.4,775.0C-1.3,775.5 -1.1,776.0 -1.0,776.5C-0.8,777.0 -0.7,777.5 -0.5,778.0C-0.4,778.6 -0.2,779.1 -0.1,779.6C0.0,780.1 0.2,780.6 0.3,781.1C0.5,781.6 0.6,782.1 0.7,782.7C0.9,783.2 1.0,783.7 1.1,784.2C1.3,784.7 1.4,785.2 1.5,785.7C1.7,786.3 1.8,786.8 1.9,787.3C2.0,787.8 2.2,788.3 2.3,788.8C2.4,789.4 2.5,789.9 2.6,790.4C2.8,790.9 2.9,791.4 3.0,792.0C3.1,792.5 3.2,793.0 3.3,793.5C3.4,794.0 3.5,794.6 3.6,795.1C3.7,795.6 3.8,796.1 3.9,796.6C4.0,797.2 4.1,797.7 4.2,798.2C4.3,798.7 4.4,799.3 4.5,799.8C4.6,800.3 4.7,800.8 4.8,801.4C4.9,801.9 4.9,802.4 5.0,802.9C5.1,803.5 5.2,804.0 5.3,804.5C5.4,805.0 5.5,805.5 5.6,806.1C5.7,806.6 5.8,807.1 5.9,807.6C6.0,808.2 6.1,808.7 6.2,809.2C6.3,809.7 6.4,810.2 6.6,810.8C6.7,811.3 6.8,811.8 6.9,812.3C7.0,812.8 7.1,813.4 7.2,813.9C7.3,814.4 7.4,814.9 7.5,815.4C7.6,816.0 7.7,816.5 7.8,817.0C7.9,817.5 8.0,818.1 8.1,818.6C8.2,819.1 8.2,819.6 8.3,820.2C8.4,820.7 8.4,821.2 8.5,821.8C8.6,822.3 8.6,822.8 8.7,823.3C8.7,823.9 8.8,824.7 8.9,824.9"/><path d="M-28.1,762.1C-27.9,762.1 -27.3,762.3 -26.9,762.3C-26.5,762.4 -26.1,762.5 -25.7,762.6C-25.3,762.7 -24.9,762.8 -24.6,762.9C-24.2,763.0 -23.8,763.2 -23.4,763.3C-23.0,763.5 -22.6,763.6 -22.3,763.8C-21.9,764.0 -21.6,764.1 -21.2,764.3C-20.9,764.6 -20.5,764.8 -20.2,765.0C-19.8,765.2 -19.5,765.5 -19.2,765.7C-18.9,766.0 -18.6,766.2 -18.2,766.5C-17.9,766.7 -17.6,767.0 -17.3,767.3C-17.0,767.6 -16.7,767.8 -16.4,768.1C-16.2,768.4 -15.9,768.7 -15.6,769.0C-15.4,769.3 -15.1,769.7 -14.9,770.0C-14.6,770.3 -14.4,770.7 -14.2,771.0C-14.0,771.3 -13.8,771.7 -13.6,772.0C-13.3,772.4 -13.1,772.7 -12.9,773.1C-12.7,773.5 -12.5,773.8 -12.4,774.2C-12.2,774.5 -12.0,774.9 -11.8,775.3C-11.6,775.6 -11.5,776.0 -11.3,776.4C-11.1,776.7 -11.0,777.1 -10.8,777.5C-10.7,777.9 -10.5,778.2 -10.4,778.6C-10.2,779.0 -10.1,779.4 -10.0,779.8C-9.8,780.2 -9.7,780.5 -9.6,780.9C-9.5,781.3 -9.3,781.7 -9.2,782.1C-9.1,782.5 -9.0,782.9 -8.9,783.3C-8.8,783.6 -8.6,784.0 -8.5,784.4C-8.4,784.8 -8.3,785.2 -8.2,785.6C-8.1,786.0 -7.9,786.4 -7.8,786.8C-7.7,787.2 -7.6,787.5 -7.5,787.9C-7.4,788.3 -7.3,788.7 -7.2,789.1C-7.0,789.5 -6.9,789.9 -6.8,790.3C-6.7,790.7 -6.6,791.1 -6.5,791.5C-6.4,791.9 -6.3,792.2 -6.2,792.6C-6.1,793.0 -6.0,793.4 -5.9,793.8C-5.8,794.2 -5.7,794.6 -5.6,795.0C-5.5,795.4 -5.4,795.8 -5.3,796.2C-5.2,796.6 -5.1,797.0 -5.1,797.4C-5.0,797.8 -4.9,798.2 -4.8,798.6C-4.7,799.0 -4.6,799.4 -4.5,799.8C-4.5,800.2 -4.4,800.6 -4.3,801.0C-4.2,801.4 -4.1,801.8 -4.1,802.2C-4.0,802.6 -3.9,803.0 -3.8,803.4C-3.8,803.8 -3.7,804.2 -3.6,804.6C-3.6,805.0 -3.5,805.4 -3.4,805.8C-3.4,806.2 -3.3,806.6 -3.2,807.0C-3.2,807.4 -3.1,807.8 -3.0,808.2C-2.9,808.6 -2.9,809.0 -2.8,809.4C-2.7,809.8 -2.6,810.2 -2.6,810.6C-2.5,811.0 -2.4,811.3 -2.3,811.7C-2.2,812.1 -2.2,812.5 -2.1,812.9C-2.0,813.3 -1.9,813.7 -1.8,814.1C-1.7,814.5 -1.6,814.9 -1.6,815.3C-1.5,815.7 -1.4,816.1 -1.3,816.5C-1.2,816.9 -1.2,817.3 -1.1,817.7C-1.0,818.1 -0.9,818.5 -0.9,818.9C-0.8,819.3 -0.8,819.7 -0.7,820.1C-0.7,820.5 -0.6,820.9 -0.6,821.3C-0.5,821.7 -0.5,822.1 -0.4,822.5C-0.4,823.0 -0.3,823.6 -0.3,823.8"/></g></svg>
<svg class="ico" viewBox="0 0 1440 809">
<defs><mask id="m1" maskUnits="userSpaceOnUse" x="0" y="0" width="1440" height="809">
<rect x="0" y="0" width="1440" height="809" fill="#fff"/>
<rect x="77.5" y="204.5" width="67" height="44" rx="10" fill="#000"/>
<path d="M84.5,244 L84.5,263 L104,248 Z" fill="#000"/>
</mask></defs>
<g fill="#436181" opacity="0.56">
<path mask="url(#m1)" d="M114.5,227 H150.5 A7.5,7.5 0 0 1 158,234.5 V250.8 A7.5,7.5 0 0 1 151,258.3 V269.5 L138,258.3 H114.5 A7.5,7.5 0 0 1 107,250.8 V234.5 A7.5,7.5 0 0 1 114.5,227 Z"/>
<path d="M88.5,208 H133.5 A7.5,7.5 0 0 1 141,215.5 V237.5 A7.5,7.5 0 0 1 133.5,245 H103 L88,258 V245 A7.5,7.5 0 0 1 81,237.5 V215.5 A7.5,7.5 0 0 1 88.5,208 Z"/>
</g>
</svg>

<h1 class="title">
<span style="top:273.2px">Необхідні</span>
<span style="top:317.4px">повоєнні</span>
<span style="top:361.5px">державні</span>
<span style="top:405.7px">стимули у</span>
<span style="top:449.8px">сфері надро-</span>
<span style="top:494.0px">користування</span>
</h1>
<div class="num">
<span class="ng" style="left:494.4px;top:69.0px;font-size:95.5px;transform:scaleX(1.143)">3</span>
<span class="ng" style="left:554.7px;top:69.0px;font-size:95.5px;transform:scaleX(1.057)">8</span>
<span class="ng" style="left:610.6px;top:70.9px;font-size:95.5px;transform:scaleX(0.987)">%</span>
</div>
<p class="txt">
<span style="top:189.8px">Спеціальний режим оподаткування для</span>
<span style="top:227.8px">надрокористувачів, які відновлюють свою діяльність на</span>
<span style="top:265.8px">деокупованих територіях</span>
</p>
<div class="num">
<span class="ng" style="left:495.3px;top:354.7px;font-size:86.0px;transform:scaleX(1.131)">2</span>
<span class="ng" style="left:548.5px;top:353.8px;font-size:86.0px;transform:scaleX(1.146)">4</span>
<span class="ng" style="left:602.7px;top:356.4px;font-size:86.0px;transform:scaleX(1.002)">%</span>
</div>
<p class="txt">
<span style="top:452.6px">Пільгова податкова ставка для видобувників</span>
<span style="top:490.8px">(виробників) будівельної сировини (матеріалів)</span>
</p>
<div class="num">
<span class="ng" style="left:485.8px;top:578.2px;font-size:86.0px;transform:scaleX(1.088)">1</span>
<span class="ng" style="left:528.7px;top:578.2px;font-size:86.0px;transform:scaleX(1.055)">8</span>
<span class="ng" style="left:579.6px;top:579.9px;font-size:86.0px;transform:scaleX(0.993)">%</span>
</div>
<p class="txt">
<span style="top:688.5px">Пільгова податкова ставка для надрокористувачів,</span>
<span style="top:726.3px">які видобувають нафту/газ</span>
</p>
</body>
</html>
